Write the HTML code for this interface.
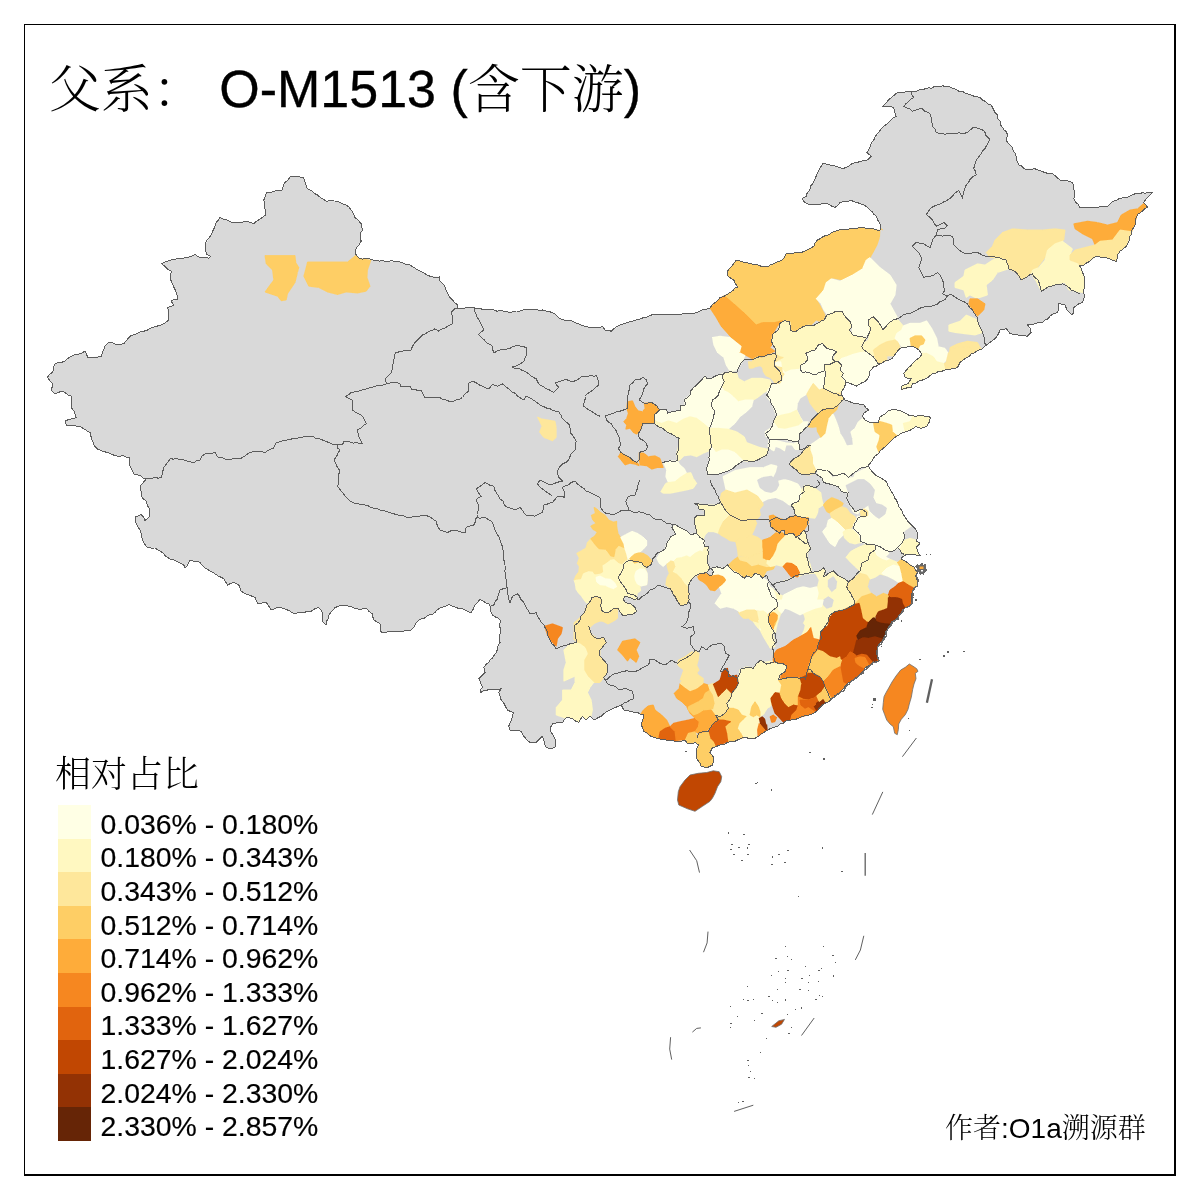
<!DOCTYPE html>
<html lang="zh">
<head>
<meta charset="utf-8">
<title>父系： O-M1513 (含下游)</title>
<style>
html,body{margin:0;padding:0;background:#fff;}
body{width:1200px;height:1200px;position:relative;overflow:hidden;font-family:"Liberation Sans","Noto Serif CJK SC",sans-serif;color:#000;}
#frame{position:absolute;left:24px;top:24px;width:1152px;height:1152px;border:solid #000;border-width:1px 2px 2px 1px;box-sizing:border-box;}
#title{-webkit-text-stroke:0.35px #000;position:absolute;left:48.8px;top:54.7px;font-size:52px;line-height:60px;white-space:pre;}
#title .cjk{position:relative;top:1.7px;-webkit-text-stroke:0;}
.cjk{font-family:"Noto Serif CJK SC",serif;font-weight:300;}
#legtitle{position:absolute;left:55px;top:750px;font-size:36px;line-height:44px;font-family:"Noto Serif CJK SC",serif;font-weight:300;}
#legend{position:absolute;left:58px;top:805px;}
#legend .row{height:33.6px;display:flex;align-items:center;}
#legend .sw{width:33px;height:33.6px;flex:none;}
#legend .lb{-webkit-text-stroke:0.18px #000;margin-left:9.5px;font-size:28.4px;line-height:33.6px;white-space:pre;position:relative;top:2.8px;}
#author{position:absolute;left:945px;top:1108px;font-size:28px;line-height:36px;white-space:pre;}
svg#map{position:absolute;left:0;top:0;}
</style>
</head>
<body>
<svg id="map" width="1200" height="1200" viewBox="0 0 1200 1200">
<!--MAP-->
<polygon points="300,177 303.8,178 307.5,188.8 317.5,195 326.2,201.2 337.5,201.2 346.2,205 351.2,210 355,217.5 361.2,223.8 362.5,230 360,236.2 361.2,241.2 356.2,247.5 355.5,253.8 358.8,258 372.5,260 385,261.2 400,262 410,265 420,271.2 430,276.2 439.5,277 440,281.2 443.8,285 450,297.5 457.5,305 458,308 472.5,307.5 490,310 512.5,312 530,309.2 542.5,310 555,313.8 560,318.8 572.5,321.2 587.5,327 600,327.5 602.5,326.2 605,330 611.2,331.2 620,325 642.5,318 656.2,314.5 680,314.5 697.5,312.5 702.5,309.5 710,308 720,297.5 730,292.5 737.5,287 733.8,280 728,276.2 727.5,271.2 736.2,260 750,263.8 767.5,267 782.5,259.5 786.2,253.8 802.5,252 813.8,246.2 817.5,240 835,231.2 845,229.5 860,227.5 870,228.8 880,230 880,223.8 876.2,216.2 867.5,207.5 857.5,202.5 851.2,200.5 840,202.5 835,207.5 827.5,203.8 812.5,205 807.5,203.8 802,198.8 806.2,196.2 822.5,163.8 830,165 842.5,168.8 855,162.5 867.5,160 871.2,156.2 867,152.5 873.8,140 881.2,128.8 890,121.2 896.2,116.2 893.8,107.5 882.5,106.2 887.5,101.2 897.5,92.5 910,92 925,88.8 940,86.2 950,87 958.8,91.2 970,94.5 980,97.5 985,101.2 991.2,105 995,112.5 1000,121.2 1002.5,127.5 1007.5,135 1006.2,140 1012.5,147.5 1016.2,156.2 1018.8,165 1023.8,168.8 1035,168.8 1045,172.5 1052.5,173.8 1060,180 1072.5,182.5 1075,192.5 1073.8,198.8 1080,207.5 1078.8,207 1092.5,207.5 1107.5,206.2 1112.5,201.2 1126.2,197.5 1135,193.8 1152.5,192.5 1146.2,198.8 1143.8,202.5 1147.5,207 1142.5,211.2 1137.5,214.5 1135,225 1130,236.2 1126.2,246.2 1120,251.2 1117.5,255 1116.2,261.2 1105,257.5 1096.2,256.2 1090,261.2 1083.8,265 1079.5,265.5 1082.5,272.5 1084.5,280 1083.8,293.8 1085,296.2 1082.5,302.5 1073.8,307.5 1072.5,315 1067,310 1065,305 1058.8,303.8 1057.5,312.5 1050,316.2 1042.5,322.5 1027.5,325 1031.2,332.5 1027.5,336.2 1010,333.8 1006.2,328.8 1000,330 996.2,337.5 985,346.2 982.5,348.8 971.2,353.8 960,362.5 957.5,367.5 945,370 932.5,373.8 922.5,380 912.5,383.8 911.2,387.5 901.2,390 901.9,386.2 908.3,383.4 911.1,378.8 904.7,377 903.8,373.3 908.3,367.8 913.8,362.3 919.3,357.8 922.1,354.1 918.4,349.5 913.8,346.8 908.3,346.8 901.9,347.3 897.3,351.3 894.6,355 891.8,358.7 879,364.2 873.5,366.9 869.8,371.5 868.9,377 866.2,380.7 860.7,383.4 856.1,386.2 852.4,384.3 846,382.5 844.2,388 841.4,391.7 842.3,396.2 845.1,399.9 856.1,403.6 863.4,404.5 866.2,408.2 868.9,410 864.3,412.8 862.5,416.4 865.2,420.1 871.7,422.8 878.1,422.5 879.9,417.3 885.4,413.7 888.2,410.9 894.6,409.1 897.3,410 904.7,412.8 909.2,415.5 915.7,416.4 920.2,415.1 930.3,417.3 929.4,421.9 926.7,426.5 921.2,428.3 915.7,426.5 910.2,430.2 904.7,432 899.2,434.8 894.6,437.5 890,442.1 885.4,446.7 879.9,451.2 875.3,455.8 871.7,461.3 868,465.9 871.7,471.4 879,476.9 886.3,481.5 890,488.8 894.6,498 896.4,500 899.2,507.3 904.7,516.5 910.2,523.8 915.7,529.3 917.5,535.8 916.6,541.2 920.2,543.1 916.6,546.8 917.5,551.3 920.2,555.9 915.7,555 908.3,554.1 902.8,556.8 901,558.7 908.3,563.2 913.8,566.9 917.5,572.4 915.7,576.1 917.5,580.7 917.9,586.2 913.8,588 912,593.5 911.1,599.9 912,603.6 908.3,606.3 904.7,608.2 901.9,611.8 899.2,614.6 897.3,618.2 891.8,621.9 889.1,626.5 886.3,631.1 884.5,636.6 881.8,641.2 878.1,644.8 876.2,652.2 878.1,657.7 879,661.3 873.5,662.2 869.8,665 865.2,667.8 862.5,672.3 857,676.9 852.4,680.6 847.8,683.3 843.2,688.8 838.7,693.4 833.2,698 828.6,701.7 823.1,704.4 819.4,708.1 814.8,712.7 807.5,715.4 798.3,718.2 791,720 785,721.2 777.5,726.2 770,728.8 763.8,732.5 758.8,736.2 752.5,738.8 746.2,737.5 737.5,740 727.5,742.5 720,745 712.5,747.5 710,752.5 713.8,757.5 712.5,765 707.5,767.5 701.2,766.2 697.5,760 696.2,752.5 698.8,745 695,742.5 687.5,743.8 685,740 675,741.2 666.2,740 657.5,738.8 648.8,735 643.8,731.2 641.2,725 643.8,716.2 643.8,715 635,712.5 623.8,710 621.2,705 615,707.5 607.5,711.2 601.2,716.2 595,720 590,716.2 586.2,720 582.5,716.2 578.8,722.5 572.5,718.8 566.2,717.5 562.5,722.5 552.5,723.8 550,730 555,738.8 555,747.5 550,748.8 546.2,747.5 543.8,740 542.5,736.2 536.2,742.5 530,742.5 523.8,736.2 521.2,731.2 510,730 508.8,726.2 513.8,712.5 507.5,710 501.2,700 498.8,692.5 501.2,688.8 487.5,690 480,693 482.5,687.5 478.8,678.8 485,672.5 483.8,667.5 488.8,662.5 496.2,652.5 500,642.5 500,620 492.5,615 488.8,603.8 480,599.5 475,605 471.2,612.5 465,610 448.8,604.5 441.2,607.5 435,612.5 417.5,621.2 411.2,630 400,632 400,632 395,631.2 381.2,632.5 380,623.8 373.8,620 372.5,613.8 366.2,608 360,610 350,606.2 341.2,605 335,607.5 328.8,615 326.2,625 322,621.2 322.5,612.5 318.8,607.5 311.2,611.2 302.5,612.5 292.5,613 286.2,609.5 280,607.5 271.2,610 266.2,602.5 257.5,603 255,597.5 247.5,594.5 241.2,591.2 238.8,585 233.8,582.5 227.5,585 223.8,578.8 215,573.8 203.8,567 200,562.5 190,560 185,568 183.8,565 176.2,561.2 167.5,557.5 162.5,552.5 155,548 147.5,547.5 142.5,540 140,530 136.2,523.8 135,517 141.2,514.5 145,520.5 150,516.2 150,510 146.2,501.2 141.2,496.2 140,486.2 146.2,478.8 133.8,473.8 130,466.2 129.5,457 115,455.5 102.5,451.2 97.5,448.8 97.5,450 93.8,445 90,432.5 80,426.2 66.2,425 65,421.2 76.2,417.5 71.2,405 71.2,396.2 62.5,391.2 55,393.8 51.2,390 52.5,383.8 47.5,377.5 53.8,370 55,363.8 65,361.2 71.2,356.2 85,351.2 87.5,357.5 101.2,356.2 105,346.2 108.8,342.5 116.2,344.5 123.8,343.8 130,336.2 143.8,331.2 152.5,327.5 163.8,323.8 168.8,320 167.5,307.5 173.8,305 171.2,301.2 177.5,299.5 176.2,292.5 170.8,280 171.2,271.2 166.2,267.5 161.8,263.8 171.2,260 182.5,258.8 195,254.5 198.8,257 208.8,258.2 210.5,256.2 206.2,253.8 205,245 211.2,235 216.2,222.5 220,217 232.5,222.5 247.5,221.2 253.8,223.8 265.5,215 263.8,200 266.2,193 282.5,190 285,182.5 290,177" fill="#D9D9D9" stroke="none"/>
<polygon points="677.5,800 678.3,791.7 680,786.7 685,780 690,775 698.3,773.3 706.7,772.5 713.3,770.8 719.2,771.7 721.7,776.7 720.8,781.7 717.5,786.7 715,793.3 712.5,798 710,801.3 702.5,806.3 695,811.3 687.5,808.8 678.8,805" fill="#C14702" stroke="#6e6e6e" stroke-width="0.8"/>
<polygon points="909.3,664 912.7,666 916.7,668.7 918,671.3 915.3,673.3 916,678.7 914,684 912.7,689.3 911.3,697.3 909.3,704 908,709.3 905.3,714.7 901.3,719.3 898.7,724 898.4,729.3 897.3,734.7 894.7,733.3 893.3,726.7 890,724 886.7,720 884.7,714.7 882.7,709.3 883.3,702.7 884,696.7 886,692.7 888.7,688 892,682 896,676 900.7,670 905.3,667.3" fill="#F68720" stroke="#6e6e6e" stroke-width="0.8"/>
<polygon points="771.7,1026.5 778.8,1020.8 784.5,1019.4 781.6,1024.2 776,1027.3" fill="#C14702" stroke="#6e6e6e" stroke-width="0.8"/>
<clipPath id="cn"><polygon points="300,177 303.8,178 307.5,188.8 317.5,195 326.2,201.2 337.5,201.2 346.2,205 351.2,210 355,217.5 361.2,223.8 362.5,230 360,236.2 361.2,241.2 356.2,247.5 355.5,253.8 358.8,258 372.5,260 385,261.2 400,262 410,265 420,271.2 430,276.2 439.5,277 440,281.2 443.8,285 450,297.5 457.5,305 458,308 472.5,307.5 490,310 512.5,312 530,309.2 542.5,310 555,313.8 560,318.8 572.5,321.2 587.5,327 600,327.5 602.5,326.2 605,330 611.2,331.2 620,325 642.5,318 656.2,314.5 680,314.5 697.5,312.5 702.5,309.5 710,308 720,297.5 730,292.5 737.5,287 733.8,280 728,276.2 727.5,271.2 736.2,260 750,263.8 767.5,267 782.5,259.5 786.2,253.8 802.5,252 813.8,246.2 817.5,240 835,231.2 845,229.5 860,227.5 870,228.8 880,230 880,223.8 876.2,216.2 867.5,207.5 857.5,202.5 851.2,200.5 840,202.5 835,207.5 827.5,203.8 812.5,205 807.5,203.8 802,198.8 806.2,196.2 822.5,163.8 830,165 842.5,168.8 855,162.5 867.5,160 871.2,156.2 867,152.5 873.8,140 881.2,128.8 890,121.2 896.2,116.2 893.8,107.5 882.5,106.2 887.5,101.2 897.5,92.5 910,92 925,88.8 940,86.2 950,87 958.8,91.2 970,94.5 980,97.5 985,101.2 991.2,105 995,112.5 1000,121.2 1002.5,127.5 1007.5,135 1006.2,140 1012.5,147.5 1016.2,156.2 1018.8,165 1023.8,168.8 1035,168.8 1045,172.5 1052.5,173.8 1060,180 1072.5,182.5 1075,192.5 1073.8,198.8 1080,207.5 1078.8,207 1092.5,207.5 1107.5,206.2 1112.5,201.2 1126.2,197.5 1135,193.8 1152.5,192.5 1146.2,198.8 1143.8,202.5 1147.5,207 1142.5,211.2 1137.5,214.5 1135,225 1130,236.2 1126.2,246.2 1120,251.2 1117.5,255 1116.2,261.2 1105,257.5 1096.2,256.2 1090,261.2 1083.8,265 1079.5,265.5 1082.5,272.5 1084.5,280 1083.8,293.8 1085,296.2 1082.5,302.5 1073.8,307.5 1072.5,315 1067,310 1065,305 1058.8,303.8 1057.5,312.5 1050,316.2 1042.5,322.5 1027.5,325 1031.2,332.5 1027.5,336.2 1010,333.8 1006.2,328.8 1000,330 996.2,337.5 985,346.2 982.5,348.8 971.2,353.8 960,362.5 957.5,367.5 945,370 932.5,373.8 922.5,380 912.5,383.8 911.2,387.5 901.2,390 901.9,386.2 908.3,383.4 911.1,378.8 904.7,377 903.8,373.3 908.3,367.8 913.8,362.3 919.3,357.8 922.1,354.1 918.4,349.5 913.8,346.8 908.3,346.8 901.9,347.3 897.3,351.3 894.6,355 891.8,358.7 879,364.2 873.5,366.9 869.8,371.5 868.9,377 866.2,380.7 860.7,383.4 856.1,386.2 852.4,384.3 846,382.5 844.2,388 841.4,391.7 842.3,396.2 845.1,399.9 856.1,403.6 863.4,404.5 866.2,408.2 868.9,410 864.3,412.8 862.5,416.4 865.2,420.1 871.7,422.8 878.1,422.5 879.9,417.3 885.4,413.7 888.2,410.9 894.6,409.1 897.3,410 904.7,412.8 909.2,415.5 915.7,416.4 920.2,415.1 930.3,417.3 929.4,421.9 926.7,426.5 921.2,428.3 915.7,426.5 910.2,430.2 904.7,432 899.2,434.8 894.6,437.5 890,442.1 885.4,446.7 879.9,451.2 875.3,455.8 871.7,461.3 868,465.9 871.7,471.4 879,476.9 886.3,481.5 890,488.8 894.6,498 896.4,500 899.2,507.3 904.7,516.5 910.2,523.8 915.7,529.3 917.5,535.8 916.6,541.2 920.2,543.1 916.6,546.8 917.5,551.3 920.2,555.9 915.7,555 908.3,554.1 902.8,556.8 901,558.7 908.3,563.2 913.8,566.9 917.5,572.4 915.7,576.1 917.5,580.7 917.9,586.2 913.8,588 912,593.5 911.1,599.9 912,603.6 908.3,606.3 904.7,608.2 901.9,611.8 899.2,614.6 897.3,618.2 891.8,621.9 889.1,626.5 886.3,631.1 884.5,636.6 881.8,641.2 878.1,644.8 876.2,652.2 878.1,657.7 879,661.3 873.5,662.2 869.8,665 865.2,667.8 862.5,672.3 857,676.9 852.4,680.6 847.8,683.3 843.2,688.8 838.7,693.4 833.2,698 828.6,701.7 823.1,704.4 819.4,708.1 814.8,712.7 807.5,715.4 798.3,718.2 791,720 785,721.2 777.5,726.2 770,728.8 763.8,732.5 758.8,736.2 752.5,738.8 746.2,737.5 737.5,740 727.5,742.5 720,745 712.5,747.5 710,752.5 713.8,757.5 712.5,765 707.5,767.5 701.2,766.2 697.5,760 696.2,752.5 698.8,745 695,742.5 687.5,743.8 685,740 675,741.2 666.2,740 657.5,738.8 648.8,735 643.8,731.2 641.2,725 643.8,716.2 643.8,715 635,712.5 623.8,710 621.2,705 615,707.5 607.5,711.2 601.2,716.2 595,720 590,716.2 586.2,720 582.5,716.2 578.8,722.5 572.5,718.8 566.2,717.5 562.5,722.5 552.5,723.8 550,730 555,738.8 555,747.5 550,748.8 546.2,747.5 543.8,740 542.5,736.2 536.2,742.5 530,742.5 523.8,736.2 521.2,731.2 510,730 508.8,726.2 513.8,712.5 507.5,710 501.2,700 498.8,692.5 501.2,688.8 487.5,690 480,693 482.5,687.5 478.8,678.8 485,672.5 483.8,667.5 488.8,662.5 496.2,652.5 500,642.5 500,620 492.5,615 488.8,603.8 480,599.5 475,605 471.2,612.5 465,610 448.8,604.5 441.2,607.5 435,612.5 417.5,621.2 411.2,630 400,632 400,632 395,631.2 381.2,632.5 380,623.8 373.8,620 372.5,613.8 366.2,608 360,610 350,606.2 341.2,605 335,607.5 328.8,615 326.2,625 322,621.2 322.5,612.5 318.8,607.5 311.2,611.2 302.5,612.5 292.5,613 286.2,609.5 280,607.5 271.2,610 266.2,602.5 257.5,603 255,597.5 247.5,594.5 241.2,591.2 238.8,585 233.8,582.5 227.5,585 223.8,578.8 215,573.8 203.8,567 200,562.5 190,560 185,568 183.8,565 176.2,561.2 167.5,557.5 162.5,552.5 155,548 147.5,547.5 142.5,540 140,530 136.2,523.8 135,517 141.2,514.5 145,520.5 150,516.2 150,510 146.2,501.2 141.2,496.2 140,486.2 146.2,478.8 133.8,473.8 130,466.2 129.5,457 115,455.5 102.5,451.2 97.5,448.8 97.5,450 93.8,445 90,432.5 80,426.2 66.2,425 65,421.2 76.2,417.5 71.2,405 71.2,396.2 62.5,391.2 55,393.8 51.2,390 52.5,383.8 47.5,377.5 53.8,370 55,363.8 65,361.2 71.2,356.2 85,351.2 87.5,357.5 101.2,356.2 105,346.2 108.8,342.5 116.2,344.5 123.8,343.8 130,336.2 143.8,331.2 152.5,327.5 163.8,323.8 168.8,320 167.5,307.5 173.8,305 171.2,301.2 177.5,299.5 176.2,292.5 170.8,280 171.2,271.2 166.2,267.5 161.8,263.8 171.2,260 182.5,258.8 195,254.5 198.8,257 208.8,258.2 210.5,256.2 206.2,253.8 205,245 211.2,235 216.2,222.5 220,217 232.5,222.5 247.5,221.2 253.8,223.8 265.5,215 263.8,200 266.2,193 282.5,190 285,182.5 290,177"/></clipPath>
<g stroke-width="0.9" stroke-linejoin="round" shape-rendering="crispEdges" clip-path="url(#cn)">
<polygon points="265,255.5 295,255.5 295.8,262.5 298.8,267.5 297.5,272.5 295,282.5 287.5,293.8 286.2,300 281.2,300.8 277.5,296.2 265,292 270,285 273.8,280 272.5,270 266.2,263.8" fill="#FECE65" stroke="#FECE65"/>
<polygon points="307.5,262 347.5,262 358,253.6 358.3,253.3 360.5,256.1 361.8,255.9 365.2,256.4 368.6,256.9 371.9,257.4 367.5,270 367,277.5 370,286.2 366.2,291.2 357.5,293 346.2,292 337.5,294.5 327.5,292 318.8,287.5 308.8,286.2 303.8,276.2 306.2,267.5" fill="#FECE65" stroke="#FECE65"/>
<polygon points="537.5,417 541.2,418.8 555,421.2 556.2,427.5 556.2,437.5 552.5,440.8 547.5,438.8 543.8,437.5 539.5,432 542,426.2 539.5,421.2" fill="#FEE79B" stroke="#FEE79B"/>
<polygon points="736.2,260 750,263.8 767.5,267 782.5,259.5 786.2,253.8 802.5,252 813.8,246.2 817.5,240 835,231.2 845,229.5 860,227.5 863.7,225.5 867,225.9 870.4,226.3 873.9,226.7 877.3,227.2 882.5,230 880,227.5 879.5,237.5 877,245 873,252.5 868.8,260 862.5,270 850,276.2 842.5,280 832.5,278 825,288.8 816.2,298.8 821.2,307.5 825,315 822.5,322.5 816.2,320 811.2,325 805,326.2 800,330 791.2,331.2 790,321.2 782.5,320.5 775,322.5 762.5,322.5 756.2,325 745,313.8 733.8,303.8 721.9,293.7 725.4,292 730,292.5 737.5,287 733.8,280 728,276.2 727.5,271.2" fill="#FECE65" stroke="#FECE65"/>
<polygon points="710,308 720,297.5 721.9,293.7 733.8,303.8 745,313.8 756.2,325 762.5,322.5 775,322.5 782.5,320.5 777.5,326.2 772,335 773.8,342.5 770,347.5 775,351.2 765,356.2 753.8,359.5 745,355 739.5,352.5 741.2,346.2 730,336.2 721.2,326.2 716.2,317.5 708.6,305.9" fill="#FEAC3A" stroke="#FEAC3A"/>
<polygon points="712.5,337.5 720,336.2 730,337.5 741.2,346.2 739.5,352.5 745,355.5 742.5,361.2 737.5,370 730,371.2 726.2,365 723.8,357.5 717.5,352.5 713.8,345" fill="#FFFFE5" stroke="#FFFFE5"/>
<polygon points="870,257.5 880,267.5 890,275 896.2,285 895,295 890,303.8 897.5,317.5 882.5,328.8 877.5,322.5 871.2,317.5 868.8,322.5 870,335 862.5,337.5 851.2,335 852.5,327.5 847.5,320 841.2,312.5 833.8,312 827.5,315 823.8,310 821.2,303.8 816.2,298.8 823.8,290 826.2,282.5 831.2,278.8 840,281.2 852.5,275 862.5,268.8 866.2,260" fill="#FFFFE5" stroke="#FFFFE5"/>
<polygon points="986.2,252.5 992.5,246.2 995,240 1002.5,232.5 1012.5,228.8 1027.5,230 1042.5,230 1055,228.8 1065,230 1063.8,240 1055,245 1048.8,250 1045,257.5 1037.5,267.5 1031.2,272.5 1026.2,277.5 1021.2,280 1016.2,272.5 1008.8,268.8 1006.2,260 997.5,257.5 990,257.5" fill="#FEE79B" stroke="#FEE79B"/>
<polygon points="955,282.5 963.8,276.2 965,270 977.5,263.8 985,265 992.5,260 997.5,257.5 1006.2,260 1008.8,268.8 997.5,272.5 992.5,280 986.2,285 987.5,295 980,297.5 975,297.5 970,295 966.2,297.5 963.8,290 955,287.5" fill="#FFF8C1" stroke="#FFF8C1"/>
<polygon points="970,298.8 977.5,298.8 985,303.8 983.8,310 977.5,316.2 972.5,310 968.8,303.8" fill="#FEAC3A" stroke="#FEAC3A"/>
<polygon points="948.8,325 960,321.2 966.2,315 972.5,317.5 977.5,320 978.8,325 982.5,332.5 975,335 965,333.8 955,332.5 948.8,331.2" fill="#FFF8C1" stroke="#FFF8C1"/>
<polygon points="1032.5,270 1038.8,267.5 1045,260 1047.5,250 1055,243.8 1062.5,241.2 1072.5,248.8 1070,255 1070,260 1078.5,263.2 1082.3,265.7 1083.6,268.6 1082.5,272.5 1084.5,280 1083.8,293.8 1086.3,293.2 1075,291.2 1068.8,290 1065,282.5 1057.5,283.8 1047.5,287.5 1041.2,291.2 1036.2,281.2 1031.2,273.8" fill="#FFF8C1" stroke="#FFF8C1"/>
<polygon points="1073.8,223.8 1087.5,221.2 1097.5,222.5 1107.5,225 1117.5,222.5 1121.2,215 1130,210 1137.5,208.8 1146,201.4 1145.5,211.9 1142.5,211.2 1137.5,214.5 1135,225 1135.9,229 1134.6,232 1120,230 1112.5,240 1100,241.2 1095,245 1092.5,238.8 1082.5,233.8 1075,228.8" fill="#FEAC3A" stroke="#FEAC3A"/>
<polygon points="1070,260 1070,255 1075,250 1090,246.2 1095,245 1100,241.2 1112.5,240 1120,230 1134.6,232 1135.9,229 1135,225 1130,236.2 1126.2,246.2 1120,251.2 1117.5,255 1116.2,261.2 1105,257.5 1096.2,256.2 1090,261.2 1083.8,265 1079.5,265.5 1078.5,263.2" fill="#FEE79B" stroke="#FEE79B"/>
<polygon points="950,347.5 957.5,343.8 967.5,341.2 977.5,342.5 982.6,351.5 982.5,348.8 971.2,353.8 960,362.5 957.5,367.5 945,370 942.5,365 948.8,360" fill="#FEE79B" stroke="#FEE79B"/>
<polygon points="828.6,616.4 836.8,611.8 844.2,610 853.3,606.3 859.8,604.5 861.6,611.8 862.5,619.2 866.2,621.9 871.7,621 866.2,628.3 858.8,631.1 856.1,635.7 856.1,639.3 855.2,644.8 853.3,650.3 854.2,655.8 849.7,652.2 845.1,654 840.5,659.5 835,655.8 831.3,657.7 825.8,652.2 821.2,649.4 817.6,644.8 820.3,639.3 819.4,634.8 824,630.2 828.6,626.5 829.5,621" fill="#C14702" stroke="#C14702"/>
<polygon points="859.8,604.5 857.9,599.9 862.5,595.3 868,593.5 873.5,597.2 879,595.3 882.7,591.7 888.2,593.5 889.1,599.9 888.2,606.3 882.7,610 878.1,610.9 875.3,614.6 874.4,617.3 871.7,621 866.2,621.9 862.5,619.2 861.6,611.8" fill="#FECE65" stroke="#FECE65"/>
<polygon points="888.2,593.5 895.5,584.3 901,582.5 908.3,586.2 915.8,589.9 912,593.5 911.1,599.9 912,603.6 908.3,606.3 904.7,608.2 901.9,604.5 901.9,599.9 897.3,597.2 891.8,598.1" fill="#E1640E" stroke="#E1640E"/>
<polygon points="888.2,593.5 891.8,598.1 897.3,597.2 901.9,599.9 901.9,604.5 904.7,608.2 901.9,611.8 899.2,614.6 897.3,618.2 891.8,621.9 889.1,626.5 884.5,622.8 879.9,624.7 877.2,621 875.3,614.6 878.1,610.9 882.7,610 888.2,606.3 889.1,599.9" fill="#933204" stroke="#933204"/>
<polygon points="856.1,635.7 858.8,631.1 866.2,628.3 871.7,621 874.4,617.3 877.2,621 879.9,624.7 884.5,622.8 889.1,626.5 886.3,631.1 884.5,636.6 879.9,634.8 875.3,637.5 869.8,639.3 863.4,638.4 858.8,640.2" fill="#662506" stroke="#662506"/>
<polygon points="856.1,639.3 858.8,640.2 863.4,638.4 869.8,639.3 875.3,637.5 879.9,634.8 884.5,636.6 881.8,641.2 878.1,644.8 876.2,652.2 878.1,657.7 874.5,664.6 869.8,655.8 864.3,654.9 858.8,656.8 854.2,655.8 853.3,650.3 855.2,644.8" fill="#933204" stroke="#933204"/>
<polygon points="840.5,659.5 845.1,654 849.7,652.2 854.2,655.8 858.8,656.8 864.3,654.9 869.8,655.8 874.5,664.6 876.9,664.2 879,661.3 873.5,662.2 869.8,665 865.2,667.8 862.5,672.3 857,676.9 852.4,680.6 849.7,676 846,674.2 842.3,668.7 838.7,665" fill="#E1640E" stroke="#E1640E"/>
<polygon points="854.2,655.8 864.3,654.9 874,665 871.6,666.7 868.8,668.5 865.2,667.8 860.7,665 855.2,663.2" fill="#F68720" stroke="#F68720"/>
<polygon points="828.6,676 833.2,670.5 838.7,665 842.3,668.7 846,674.2 849.7,676 852.4,680.6 847.8,683.3 843.2,688.8 838.7,693.4 833.2,698 829.5,694.3 826.8,687 825.8,681.5" fill="#F68720" stroke="#F68720"/>
<polygon points="842.3,673.2 846,674.2 849.7,676 852.4,680.6 847.8,683.3 849.6,685.1" fill="#FEAC3A" stroke="#FEAC3A"/>
<polygon points="808.4,666.8 812.1,657.7 817.6,650.3 821.2,649.4 825.8,652.2 831.3,657.7 835,655.8 840.5,659.5 838.7,665 833.2,670.5 828.6,676 825.8,681.5 821.2,676 814.8,673.2 807.5,673.2" fill="#FECE65" stroke="#FECE65"/>
<polygon points="780,648.5 787.3,644.8 792.8,641.2 798.3,637.5 805.7,633.8 811.2,628.3 813,637.5 819.4,640.2 817.6,644.8 817.6,650.3 812.1,657.7 808.4,666.8 807.5,673.2 802,679.7 794.7,676 787.3,678.8 780,681.5" fill="#F68720" stroke="#F68720"/>
<polygon points="800.2,690.7 802,679.7 807.5,673.2 814.8,673.2 821.2,676 825.8,681.5 826.8,687 823.1,692.5 818.5,694.3 815.8,699.8 807.5,698 802,697.1" fill="#C14702" stroke="#C14702"/>
<polygon points="818.5,694.3 823.1,692.5 826.2,687.9 828,696.2 831.6,702.5 827.4,705.1 822.2,699.8 824.3,706.6" fill="#FECE65" stroke="#FECE65"/>
<polygon points="814.8,703.5 815.8,699.8 822.2,699.8 827.4,705.1 823.1,704.4 819.4,708.1 818.9,712.1" fill="#933204" stroke="#933204"/>
<polygon points="780,687 787.3,678.8 794.7,676 802,679.7 800.2,690.7 798.3,698.9 794.7,705.3 789.2,708.1 783.7,701.7 780,698" fill="#FECE65" stroke="#FECE65"/>
<polygon points="789.2,708.1 794.7,705.3 798.3,698.9 802,697.1 807.5,698 815.8,699.8 814.8,703.5 818.9,712.1 814.8,712.7 807.5,715.4 798.3,718.2 791,720 790.2,722.7 787.3,714.5" fill="#F68720" stroke="#F68720"/>
<polygon points="897.3,562.3 903.5,557.3 905.8,558.7 908.3,563.2 913.8,566.9 917.5,572.4 915.7,576.1 917.5,580.7 917.9,586.2 913.8,588 908.3,586.2 901,582.5 901,573.3 899.2,567.8" fill="#FECE65" stroke="#FECE65"/>
<polygon points="544.5,626.2 552.5,623.8 562.5,627.5 561.2,633.8 557.5,638.8 556.2,646.2 551.2,641.2 547.5,635" fill="#F68720" stroke="#F68720"/>
<polygon points="575,635 575,625 580,620 585,615 586.2,608.8 591.2,602.5 592.5,598 600,598 601.2,607.5 607.5,612.5 612.5,610 617.5,611.2 617.5,617.5 612.5,621.2 600,621.2 592.5,623.8 588.8,626.2 591.2,633.8 597.5,638.8 603.8,637.5 606.2,642.5 600,650 600,656.2 607.5,665 607.5,672.5 603.8,677.5 600,682.5 593.8,682.5 587.5,676.2 583.8,670 583.8,660 587.5,653.8 585,647.5 580,643.8 576.2,642.5" fill="#FEE79B" stroke="#FEE79B"/>
<polygon points="563.8,650 570,643.8 576.2,642.5 580,643.8 585,647.5 587.5,653.8 583.8,660 583.8,670 587.5,676.2 593.8,682.5 590,687.5 587.5,692.5 591.2,700 592.5,710 590.3,719.6 590,716.2 586.2,720 582.5,716.2 578.8,722.5 572.5,718.8 566.2,717.5 568.1,719.1 556.2,715 556.2,707.5 562.5,700 562.5,690 571.2,690 575,682.5 575,676.2 563.8,681.2 563.8,670 566.2,662.5" fill="#FFF8C1" stroke="#FFF8C1"/>
<polygon points="617.5,650 622.5,641.2 635,638.8 640,642.5 636.2,650 638.8,656.2 636.2,662.5 630,657.5 627.5,661.2 622.5,655" fill="#FEAC3A" stroke="#FEAC3A"/>
<polygon points="654.2,415 660.8,409.2 666.7,410 667.5,413.3 673.3,411.7 680,410.8 680.8,405 685,405.8 684.2,399.2 690,395 690.8,390.8 696.7,385 700,381.7 705,375.8 706.7,378.3 711.7,378.3 718.3,375 723.3,373.3 722.5,378.3 724.2,381.7 721.7,386.7 718.3,395 712.5,400 711.7,406.7 715,411.7 713.3,416.7 711.7,423.3 709.2,428.3 703.3,423.3 696.7,418.3 690,416.7 683.3,419.2 676.7,423.3 668.3,420.8 661.7,423.3 656.7,421.7 654.2,419.2" fill="#FFFFE5" stroke="#FFFFE5"/>
<polygon points="661.7,423.3 668.3,420.8 676.7,423.3 683.3,419.2 690,416.7 696.7,418.3 703.3,423.3 709.2,428.3 710,435 711.7,446.7 709.2,450.8 703.3,453.3 696.7,456.7 690.8,455 684.2,455.8 680,460 677.5,460.8 676.7,453.3 678.3,446.7 679.2,438.3 673.3,435 666.7,431.7 662.5,428.3 658.3,426.7 654.2,423.3 654.2,419.2 656.7,421.7" fill="#FFF8C1" stroke="#FFF8C1"/>
<polygon points="723.3,373.3 730,371.7 736.7,372.5 738.3,378.3 744.2,381.7 751.7,378.3 761.7,378.3 770,380 771.7,383.3 768.3,390 763.3,393.3 756.7,398.3 753.3,400 745,400 738.3,401.7 733.3,396.7 728.3,392.5 724.2,390.8 721.7,386.7 724.2,381.7 722.5,378.3" fill="#FFF8C1" stroke="#FFF8C1"/>
<polygon points="721.7,386.7 724.2,390.8 728.3,392.5 733.3,396.7 738.3,401.7 745,400 753.3,400 751.7,406.7 746.7,411.7 740,416.7 735,423.3 728.3,429.2 718.3,428.3 711.7,428.3 711.7,423.3 713.3,416.7 715,411.7 711.7,406.7 712.5,400 718.3,395" fill="#FFFFE5" stroke="#FFFFE5"/>
<polygon points="709.2,428.3 718.3,428.3 728.3,429.2 736.7,431.7 744.2,436.7 746.7,442.5 753.3,445 760,447.5 768.3,449.2 766.7,455 759.2,459.2 751.7,461.7 743.3,460.8 739.2,456.7 735,452.5 728.3,450 721.7,450 715.8,452.5 711.7,446.7 710,435" fill="#FFF8C1" stroke="#FFF8C1"/>
<polygon points="711.7,446.7 715.8,452.5 721.7,450 728.3,450 735,452.5 739.2,456.7 743.3,460.8 736.7,465 730,470 723.3,472.5 716.7,474.2 707.5,475 706.7,468.3 709.2,460 709.2,450.8" fill="#FFFFE5" stroke="#FFFFE5"/>
<polygon points="627.5,401.7 632.5,400.8 635,406.7 638.3,410.8 642.5,411.7 645,408.3 644.2,403.3 651.7,402.5 656.7,405.8 659.2,410 654.2,415 654.2,423.3 642.5,423.7 640.8,430 636.7,434.2 633.3,432.5 630,428.3 625.8,429.2 626.7,425 623.7,421.7 626.7,418.3 628.3,413.3 626.7,408.3" fill="#FEAC3A" stroke="#FEAC3A"/>
<polygon points="618.3,456.7 620.8,452.5 625,455 630,457.5 633.3,460.8 637.5,462.5 639.2,465.8 635,464.2 630,463.3 625,465 621.7,460.8" fill="#FEAC3A" stroke="#FEAC3A"/>
<polygon points="639.2,452.5 644.2,453.3 648.3,456.7 655,455.8 660,458.3 661.7,463.3 663.3,467.5 657.5,467.5 651.7,469.2 646.7,465.8 640,465 639.2,460" fill="#FEAC3A" stroke="#FEAC3A"/>
<polygon points="663.3,462.5 670,460.8 677.5,460.8 680,465 684.2,468.3 686.7,473.3 680,477.5 675,481.7 668.3,482.5 665.8,476.7 666.7,470" fill="#FFFFE5" stroke="#FFFFE5"/>
<polygon points="660.8,491.7 665.8,483.3 668.3,482.5 675,481.7 680,477.5 686.7,473.3 690.8,472.5 693.3,478.3 696.7,483.3 693.3,488.3 686.7,490 678.3,491.7 670,493.3 663.3,493.3" fill="#FFF8C1" stroke="#FFF8C1"/>
<polygon points="772.5,334.2 778.3,330 780,323.3 784.2,320.8 790,321.7 790.8,330.8 795.8,331.7 801.7,327.5 808.3,325 813.3,325.8 824.2,320 826.7,315 835,311.7 842.5,311.7 846.7,318.3 850.8,322.5 851.7,327.5 849.2,330 853.3,335.8 861.7,336.7 866.7,338.3 863.3,343.3 861.7,346.7 866.7,351.7 860,352.5 853.3,354.2 846.7,356.7 841.7,358.3 838.3,361.7 833.3,360 836.7,351.7 833.3,350 826.7,348.3 822.5,343.3 818.3,345 815,350 805.8,353.3 807.5,360 800.8,365 800,369.2 790.8,370 785,372.5 781.7,368.3 780.8,361.7 774.2,362.5 776.7,356.7 775,348.3 771.7,341.7" fill="#FFF8C1" stroke="#FFF8C1"/>
<polygon points="800.8,365 807.5,360 805.8,353.3 815,350 818.3,345 822.5,343.3 826.7,348.3 833.3,350 836.7,351.7 833.3,355 832.5,359.2 835,361.7 830,364.2 825,364.2 825,370.8 819.2,372.5 815,375 809.2,372.5 802.5,372.5 800,369.2" fill="#FFFFE5" stroke="#FFFFE5"/>
<polygon points="825,364.2 830,364.2 833.3,360 838.3,361.7 841.7,365 840,370 843.3,373.3 841.7,376.7 846.9,384.8 847.2,386.8 844,392.4 844.2,392.9 833.3,393.3 828.3,390.8 823.3,388.3 824.2,381.7 825.8,373.3 825,370.8" fill="#FFF8C1" stroke="#FFF8C1"/>
<polygon points="838.3,361.7 841.7,358.3 846.7,356.7 853.3,354.2 860,352.5 866.7,351.7 873.3,356.7 879.9,366.5 874.9,369 872.2,372.4 871.7,375.6 869.8,380 865.6,383.8 861,386.1 853,387.4 848.1,385.7 846.9,384.8 841.7,376.7 843.3,373.3 840,370 841.7,365" fill="#FFFFE5" stroke="#FFFFE5"/>
<polygon points="774.2,362.5 780.8,361.7 781.7,368.3 785,372.5 790.8,370 800,369.2 802.5,372.5 809.2,372.5 815,375 819.2,372.5 825,370.8 825.8,373.3 824.2,381.7 823.3,388.3 819.2,390 813.3,383.3 810,388.3 806.7,394.2 800,398.3 797.5,403.3 796.7,410 790,413.3 781.7,415 776.7,416.7 774.2,410 771.7,403.3 766.7,396.7 767.5,390 771.7,385 776.7,383.3 781.7,380 780.8,373.3 775,366.7" fill="#FFFFE5" stroke="#FFFFE5"/>
<polygon points="806.7,394.2 810,388.3 813.3,383.3 819.2,390 823.3,388.3 828.3,390.8 833.3,393.3 844.2,392.9 844.7,395.6 846.1,397.1 838.3,405 833.3,408.3 823.3,409.2 818.3,413.3 815,410 810,403.3 808.3,398.3" fill="#FEE79B" stroke="#FEE79B"/>
<polygon points="776.7,416.7 781.7,415 790,413.3 796.7,410 800,416.7 803.3,421.7 808.3,421.7 805,428.3 800,433.3 798.3,441.7 790,440.8 781.7,439.2 770,439.2 765.8,436.7 765,431.7 770,428.3 774.2,421.7" fill="#FFFFE5" stroke="#FFFFE5"/>
<polygon points="776.7,416.7 781.7,415 790,413.3 796.7,410 800,416.7 802.5,421.7 798.3,425 791.7,426.7 785,428.3 778.3,427.5 774.2,421.7" fill="#FFF8C1" stroke="#FFF8C1"/>
<polygon points="810,445 815,441.7 820.8,437.5 825,433.3 826.7,425 828.3,418.3 831.7,414.2 833.3,414.2 835.8,420 838.3,426.7 840,433.3 843.3,438.3 846.7,445.8 853.3,445 852.5,438.3 850.8,431.7 855,428.3 858.3,421.7 865.4,416.2 868,418.6 871.8,420.1 874.9,420.1 876.3,420.1 879.3,414.7 883.6,411.9 888,408.4 891,407.5 895.8,406.9 899,408 902.1,409.1 904.9,410.2 908.1,411.9 912.2,413.4 915.3,413.9 919.4,412.7 923.8,413.3 927.2,414.1 932.7,418 931.9,422.2 929.8,426.1 926.9,429.1 924.3,429.9 918.6,430.1 915.9,429.2 914.6,430.2 910.9,432.6 907.4,433.8 904.2,435.1 900.9,436.7 897.6,438.7 894.9,440.8 892.6,443 890.3,445.3 887.8,447.8 884.9,450.3 882.2,452.5 879.8,454.8 876.2,459.1 874.2,462.1 871.9,465.1 870.3,464.8 860,468.3 853.3,473.3 848.3,477.5 843.3,473.3 838.3,475 833.3,475.8 826.7,470 817.5,469.2 815.8,470 812.5,463.3 812.5,456.7 810,450" fill="#FFFFE5" stroke="#FFFFE5"/>
<polygon points="807.5,426.7 811.7,420 815,416.7 823.3,409.2 833.3,408.3 838.3,405 836.7,410 831.7,414.2 828.3,418.3 826.7,425 825,433.3 820.8,437.5 817.5,431.7 816.7,426.7 811.7,427.5" fill="#FECE65" stroke="#FECE65"/>
<polygon points="789.2,464.2 793.3,459.2 800,455 805,448.3 810,445 810,450 812.5,456.7 812.5,463.3 815.8,470 815,473.3 808.3,475 801.7,474.2 796.7,470" fill="#FEE79B" stroke="#FEE79B"/>
<polygon points="873,420.2 876.4,420.1 876.6,420.5 886.7,423.3 891.7,425 892.5,431.7 899.3,437.7 900.9,436.7 897.6,438.7 894.9,440.8 892.6,443 890.3,445.3 887.8,447.8 884.9,450.3 882.2,452.5 879.8,454.8 877.3,457.3 879.8,454.8 876.7,446.7 879.2,440 880,435 875,431.7" fill="#FECE65" stroke="#FECE65"/>
<polygon points="903.3,423.3 910,421.7 914.2,413.7 915.4,413.9 919.4,412.7 923.8,413.3 927.2,414.1 932.7,418 931.9,422.2 929.8,426.1 926.9,429.1 924.3,429.9 918.6,430.1 915.9,429.2 914.6,430.2 910.9,432.6 907.4,433.8 905.6,434.3" fill="#FFF8C1" stroke="#FFF8C1"/>
<polygon points="861.7,346.7 863.3,343.3 868.3,340 870,331.7 868.3,320 873.3,316.7 878.3,321.7 882.5,330 888.3,323.3 893.3,320 898.3,320 903.3,325.8 901.7,330 896.7,333.3 895,338.3 898.3,341.7 900.9,351.5 899.2,352.9 897.2,355.7 886.7,355.8 887,363.5 884.5,364.5 879.9,366.5 873.3,356.7 866.7,351.7" fill="#FFF8C1" stroke="#FFF8C1"/>
<polygon points="873.3,350 880,345 886.7,341.7 895,340 898.3,341.7 900.9,351.5 899.2,352.9 897.2,355.7 886.7,355.8 887,363.5 884.5,364.5 879.9,366.5 875,356.7" fill="#FEE79B" stroke="#FEE79B"/>
<polygon points="895,338.3 896.7,333.3 901.7,330 903.3,325.8 910,323.3 920,323.3 926.7,320.8 931.7,328.3 936.7,338.3 938.3,346.7 945,348.3 948.3,353.3 946.7,360 943.3,363.3 936.7,361.7 933.3,356.7 926.7,353.3 918.3,353.4 916.8,351.5 913.6,349.6 911.7,349.3 906.9,349.4 903.3,349.4 903.3,349.3 898.3,341.7" fill="#FFFFE5" stroke="#FFFFE5"/>
<polygon points="910,338.3 915,335.8 921.7,335.8 925,340 923.3,344.2 920,345 916.8,351.5 913.6,349.6 911.7,349.3" fill="#FECE65" stroke="#FECE65"/>
<polygon points="902.3,371.1 904.6,368.4 907.1,365.4 910.1,362.5 913.5,359.3 916.8,356.6 919,354.1 919.9,355.4 918.3,353.4 926.7,353.3 933.3,356.7 936.7,361.7 943.3,363.3 945.8,372.4 943.2,373.2 940.2,374.1 937.2,375 933.8,376 931,377.7 928,379.5 925.3,381.2 922.1,382.8 919.2,383.9 915.3,385.4 914.3,386.2 908,390.9 904,391.9 899.3,386.3 904.7,382.3 906.7,381.3 908.7,377.9 906,380" fill="#FFF8C1" stroke="#FFF8C1"/>
<polygon points="945.8,372.4 946.7,360 948.3,353.3 951.7,348.3 960,346.7 970,347.5 974.1,355.3 971.5,356.7 968.5,359 966.1,361 963.6,362.9 961.9,364.3 960.7,366.7 955.2,370.5 952.3,371.1 948.7,371.8" fill="#FEE79B" stroke="#FEE79B"/>
<polygon points="666.7,563.3 670.8,560 674.2,560.8 675.8,566.7 673.3,571.7 676.7,573.3 681.7,578.3 685,583.3 688.3,586.7 689.2,600 686.7,604.2 680,605 676.7,600 673.3,595 670,588.3 665.8,585 666.7,578.3 669.2,573.3 667.5,568.3" fill="#FEE79B" stroke="#FEE79B"/>
<polygon points="659.2,563.3 656.7,558.3 660.8,551.7 665,549.2 666.7,543.3 670.8,536.7 675.8,534.2 673.3,530 671.7,527.5 675.8,525 680,527.5 685,530 690,534.2 696.7,533.3 700,537.5 704.2,540 705,546.7 702.5,551.7 700,550.8 695,553.3 690,557.5 686.7,555.8 681.7,557.5 676.7,558.3 674.2,560.8 670.8,560 666.7,563.3 663.3,566.7" fill="#FFFFE5" stroke="#FFFFE5"/>
<polygon points="694.2,503.3 700,504.2 708.3,505 715,505 720.8,502.5 723.3,506.7 726.7,511.7 730,515 726.7,518.3 723.3,521.7 720,528.3 718.3,533.3 713.3,531.7 708.3,531.7 705,535 703.3,539.2 700,537.5 696.7,533.3 695,525 694.2,518.3 696.7,515.8 705,515 704.2,510 699.2,509.2 697.5,505" fill="#FFF8C1" stroke="#FFF8C1"/>
<polygon points="674.2,560.8 676.7,558.3 681.7,557.5 686.7,555.8 690,557.5 695,553.3 700,550.8 702.5,551.7 705,546.7 708.3,546.7 708.3,553.3 707.5,563.3 710,568.3 706.7,572.5 703.3,573.3 696.7,575 693.3,577.5 690,581.7 688.3,586.7 685,583.3 681.7,578.3 676.7,573.3 673.3,571.7 675.8,566.7" fill="#FFF8C1" stroke="#FFF8C1"/>
<polygon points="720.8,502.5 726.7,495 736.7,495.8 746.7,493.3 756.7,494.2 761.7,498.3 763.3,505 759.2,510 760,515 755,519.2 746.7,520 740,520 735,517.5 730,515 726.7,511.7 723.3,506.7" fill="#FEE79B" stroke="#FEE79B"/>
<polygon points="718.3,533.3 720,528.3 723.3,521.7 726.7,518.3 730,515 735,517.5 740,520 746.7,520 755,519.2 756.7,523.3 754.2,530 751.7,535 745,537.5 740,537.5 735.8,541.7 730,540.8 725,537.5 721.7,535.8" fill="#FEE79B" stroke="#FEE79B"/>
<polygon points="726.7,566.7 733.3,560 738.3,556.7 740,560 746.7,561.7 751.7,565.8 758.3,564.2 766.7,566.7 775,565.8 773.3,569.2 766.7,570.8 762.5,578.3 760,575 755,573.3 751.7,577.5 746.7,575.8 744.2,578.3 738.3,573.3 731.7,570" fill="#FECE65" stroke="#FECE65"/>
<polygon points="735.8,541.7 740,537.5 745,537.5 751.7,535 758.3,537.5 763.3,541.7 762.5,548.3 759.2,553.3 753.3,555 748.3,558.3 745,556.7 740,555.8 738.3,556.7 737.5,550" fill="#FEE79B" stroke="#FEE79B"/>
<polygon points="748.3,558.3 753.3,555 759.2,553.3 762.5,548.3 763.3,551.7 765,558.3 768.3,560 771.7,563.3 775,565.8 766.7,566.7 758.3,564.2 751.7,565.8 746.7,561.7 740,560 738.3,556.7 745,556.7" fill="#FEE79B" stroke="#FEE79B"/>
<polygon points="762.5,540 768.3,538.3 775,536.7 780,533.3 780,546.7 775,550 772.5,556.7 768.3,560 765,558.3 763.3,551.7 764.2,545" fill="#FEAC3A" stroke="#FEAC3A"/>
<polygon points="769.2,515.8 773.3,515 780,519.2 780,533.3 775,530 770.8,526.7 770,521.7" fill="#FEAC3A" stroke="#FEAC3A"/>
<polygon points="711.7,568.3 716.7,566.7 723.3,568.3 727.5,565 731.7,570 738.3,573.3 744.2,578.3 746.7,575.8 751.7,577.5 755,573.3 760,575 762.5,578.3 766.7,580 770,586.7 775,590 776.7,596.7 777.5,605 771.7,610 763.3,611.7 755,609.2 746.7,610 740,611.7 733.3,608.3 726.7,606.7 720,608.3 715,603.3 718.3,598.3 721.7,593.3 719.2,586.7 723.3,583.3 725.8,580 723.3,576.7 718.3,575 711.7,575.8 713.3,571.7" fill="#FFFFE5" stroke="#FFFFE5"/>
<polygon points="697.5,576.7 700,574.2 705,573.3 711.7,575.8 718.3,575 723.3,576.7 725.8,580 723.3,583.3 719.2,586.7 715,590.8 710,590 706.7,585 702.5,581.7 699.2,580" fill="#FEAC3A" stroke="#FEAC3A"/>
<polygon points="738.3,611.7 746.7,610 755,609.2 763.3,611.7 766.7,616.7 763.3,621.7 758.3,623.3 753.3,621.7 748.3,618.3 743.3,618.3 740,615" fill="#FEE79B" stroke="#FEE79B"/>
<polygon points="753.3,621.7 758.3,623.3 763.3,621.7 766.7,616.7 763.3,611.7 771.7,610 775,618.3 771.7,626.7 773.3,635 775,643.3 773.3,648.3 768.3,645 763.3,636.7 760,630 756.7,626.7" fill="#FFF8C1" stroke="#FFF8C1"/>
<polygon points="768.3,620 770,613.3 773.3,610 777.5,608.3 780,613.3 780,621.7 776.7,623.3 774.2,626.7 771.7,626.7 770,623.3" fill="#FEAC3A" stroke="#FEAC3A"/>
<polygon points="774.2,653.3 775.8,650 780,649.2 780,665 775.8,664.2 773.3,660" fill="#F68720" stroke="#F68720"/>
<polygon points="677.5,663.3 680,660.8 686.7,657.5 690.8,655 695,650.8 699.2,653.3 698.3,660 696.7,665 699.2,670 696.7,673.3 691.7,675 686.7,673.3 685.8,680 680,680 682.5,673.3 684.2,668.3 680,667.5" fill="#FEE79B" stroke="#FEE79B"/>
<polygon points="722.5,680 721.7,673.3 724.2,669.2 727.5,668.3 728.3,673.3 731.7,676.7 736.7,675 738.3,680" fill="#C14702" stroke="#C14702"/>
<polygon points="740,670 746.7,666.7 753.3,668.3 760,663.3 766.7,661.7 774.2,660.8 780,665 780,680 738.3,680 739.2,675" fill="#FFF8C1" stroke="#FFF8C1"/>
<polygon points="828.3,480 838.3,485 848.3,491.7 846.7,498.3 850,505 855,511.7 861.7,509.2 866.7,512.5 865.8,516.7 858.3,517.5 855,523.3 853.3,528.3 860,535 860,541.7 866.7,544.2 875,545 880,546.7 885,550 891.7,551.7 896.7,548.3 901.7,543.3 905,536.7 903.3,531.7 914.1,524.2 916.6,526.7 918.8,531 919.4,533.5 918.6,530.4 920,526.7 915,520 910,513.3 905,506.7 901.7,498.3 898.3,490 893.3,480 888.7,480.8 887.5,479.3 885.3,477.9 883.1,476.5 880.9,475.1" fill="#FFFFE5" stroke="#FFFFE5"/>
<polygon points="846.7,498.3 853.3,493.3 860,490 868.3,488.3 873.3,495 876.7,501.7 880,508.3 886.7,513.3 890,521.7 886.7,528.3 880,526.7 873.3,528.3 868.3,525 866.7,518.3 865.8,516.7 866.7,512.5 861.7,509.2 855,511.7 850,505" fill="#D9D9D9" stroke="#D9D9D9"/>
<polygon points="866.7,536.7 873.3,533.3 880,531.7 888.3,530 891.7,533.3 890,538.3 885,541.7 876.7,543.3 870,541.7" fill="#FFF8C1" stroke="#FFF8C1"/>
<polygon points="898.3,546.7 901.7,543.3 905,540 910,538.3 919.2,540.9 918,539.1 921.8,545 920.3,546.6 919.8,550.2 917.6,556.4 915.9,557.6 912.8,557.2 909.4,556.8 907.1,557.5 904.4,558.8 900,550" fill="#FFF8C1" stroke="#FFF8C1"/>
<polygon points="790.8,505 798.3,501.7 800,495 804.2,491.7 803.3,486.7 808.3,485 815,488.3 820.8,492.5 821.7,498.3 823.3,505 818.3,508.3 817.5,513.3 815,518.3 808.3,517.5 801.7,518.3 795.8,515.8 794.2,510" fill="#FFF8C1" stroke="#FFF8C1"/>
<polygon points="770,520 776.7,517.5 785,520 790,516.7 795.8,515.8 801.7,518.3 808.3,517.5 808.3,523.3 804.2,530 800,535 795.8,537.5 793.3,533.3 785,535 784.2,530 776.7,531.7 770.8,526.7" fill="#FEAC3A" stroke="#FEAC3A"/>
<polygon points="823.3,505 826.7,500.8 831.7,497.5 838.3,500 843.3,503.3 841.7,506.7 835,510 830,513.3 826.7,511.7" fill="#FECE65" stroke="#FECE65"/>
<polygon points="830,513.3 835,510 841.7,506.7 846.7,508.3 850,513.3 855,516.7 856.7,521.7 853.3,525 850,530 845,530 841.7,526.7 836.7,521.7 831.7,518.3" fill="#FEE79B" stroke="#FEE79B"/>
<polygon points="822.5,531.7 826.7,526.7 828.3,520 831.7,518.3 836.7,521.7 841.7,526.7 845,530 843.3,535 838.3,540 835,546.7 830,543.3 826.7,538.3" fill="#FFFFE5" stroke="#FFFFE5"/>
<polygon points="846.7,556.7 853.3,550 860,546.7 866.7,544.2 875,545 875,550 870,553.3 868.3,560 861.7,563.3 860,570.8 855,566.7 850,561.7" fill="#FFF8C1" stroke="#FFF8C1"/>
<polygon points="776.7,550 778.3,543.3 783.3,540 785,535 793.3,533.3 795.8,537.5 800,535 804.2,530 808.3,543.3 810.8,548.3 806.7,553.3 808.3,561.7 811.7,572.5 803.3,574.2 795,575.8 800,573.3 798.3,568.3 793.3,563.3 786.7,562.5 783.3,566.7 776.7,565 770,566.7 766.7,563.3 768.3,558.3 773.3,555" fill="#FFF8C1" stroke="#FFF8C1"/>
<polygon points="763.3,541.7 768.3,538.3 776.7,536.7 781.7,531.7 785,535 783.3,540 778.3,543.3 776.7,550 773.3,555 768.3,558.3 763.3,558.3" fill="#FEAC3A" stroke="#FEAC3A"/>
<polygon points="783.3,566.7 786.7,562.5 793.3,563.3 798.3,568.3 800,573.3 795,575.8 791.7,577.5 788.3,573.3" fill="#F68720" stroke="#F68720"/>
<polygon points="760,576.7 766.7,580 768.3,588.3 771.7,596.7 776.7,600 777.5,606.7 770,613.3 768.3,620 766.7,626.7 760,630" fill="#FFFFE5" stroke="#FFFFE5"/>
<polygon points="775,583.3 781.7,581.7 790,579.2 795,575.8 803.3,574.2 811.7,572.5 820,570.8 823.3,567.5 825.8,570.8 823.3,576.7 828.3,573.3 833.3,570.8 838.3,575.8 843.3,578.3 848.3,581.7 846.7,586.7 850.8,593.3 854.2,600 855,604.2 850,606.7 843.3,610 835,611.7 830,615 828.3,621.7 825,626.7 820,632.5 813.3,636.7 810.8,627.5 808.3,631.7 800,636.7 793.3,640 785,646.7 776.7,650 773.3,655 772.5,646.7 776.7,641.7 775.8,635 771.7,628.3 768.3,620 770,613.3 776.7,606.7 777.5,600 775.8,593.3 773.3,588.3" fill="#FFF8C1" stroke="#FFF8C1"/>
<polygon points="773.3,588.3 775,583.3 785,581.7 793.3,578.3 803.3,575 815,574.2 818.3,580 816.7,586.7 810,588.3 803.3,586.7 796.7,588.3 790,591.7 783.3,595 778.3,593.3" fill="#D9D9D9" stroke="#D9D9D9"/>
<polygon points="781.7,613.3 785,608.3 791.7,606.7 798.3,610 803.3,615 805,621.7 803.3,630 800,636.7 793.3,640 785,646.7 776.7,650 773.3,655 772.5,646.7 776.7,641.7 775.8,635 778.3,623.3" fill="#D9D9D9" stroke="#D9D9D9"/>
<polygon points="823.3,600 828.3,596.7 833.3,600 831.7,606.7 826.7,608.3 823.3,605" fill="#D9D9D9" stroke="#D9D9D9"/>
<polygon points="828.3,580 833.3,576.7 836.7,581.7 835.8,588.3 831.7,591.7 828.3,586.7" fill="#D9D9D9" stroke="#D9D9D9"/>
<polygon points="783.3,595 790,591.7 796.7,588.3 803.3,586.7 810,588.3 816.7,586.7 818.3,593.3 816.7,600 810,603.3 803.3,606.7 798.3,610 791.7,606.7 785,608.3 781.7,603.3" fill="#FFFFE5" stroke="#FFFFE5"/>
<polygon points="767.5,615 770.8,611.7 775.8,613.3 777.5,618.3 775,625 772.5,628.3 770,623.3 767.5,620" fill="#FECE65" stroke="#FECE65"/>
<polygon points="860,573.3 860,570.8 861.7,563.3 868.3,560 870,553.3 875,550 876.7,545 881.7,546.7 888.3,551.7 890,558.3 899.3,560.6 903.4,557.2 904.3,557.8 900,566.7 901.7,573.3 903.3,580 898.3,583.3 893.3,580 886.7,576.7 880,575 875,578.3 870,580 866.7,575" fill="#FFF8C1" stroke="#FFF8C1"/>
<polygon points="881.7,573.3 886.7,568.3 893.3,565 900,566.7 901.7,573.3 903.3,580 898.3,583.3 893.3,580 886.7,576.7" fill="#FFFFE5" stroke="#FFFFE5"/>
<polygon points="875,550 876.7,545 881.7,546.7 888.3,551.7 890,558.3 886.7,560 881.7,558.3 876.7,555" fill="#FFFFE5" stroke="#FFFFE5"/>
<polygon points="886.7,556.7 891.7,551.7 896.7,548.3 901.7,553.3 905,558.3 901.7,560 898.3,561.7 890,558.3" fill="#D9D9D9" stroke="#D9D9D9"/>
<polygon points="848.3,581.7 853.3,578.3 860,573.3 866.7,575 870,580 868.3,586.7 871.7,593.3 866.7,595 861.7,596.7 858.3,600 855,604.2 854.2,600 850.8,593.3 846.7,586.7" fill="#FEE79B" stroke="#FEE79B"/>
<polygon points="870,580 875,578.3 880,575 886.7,576.7 893.3,580 898.3,583.3 895,586.7 890,590 888.3,595 883.3,593.3 876.7,596.7 871.7,593.3 868.3,586.7" fill="#D9D9D9" stroke="#D9D9D9"/>
<polygon points="858.3,600 861.7,596.7 866.7,595 871.7,593.3 876.7,596.7 883.3,593.3 888.3,595 888.3,601.7 887.5,608.3 883.3,610 878.3,611.7 875.8,616.7 873.3,617.5 866.7,621.7 862.5,618.3 860.8,610 859.2,603.3 855,604.2" fill="#FECE65" stroke="#FECE65"/>
<polygon points="897.5,562.5 903.4,557.2 908.5,560.4 912.1,562.7 916.4,566.2 918.2,568.9 919.8,573.4 919.4,574.3 919.4,578.7 920.1,581.7 920.4,586.6 918,588.9 914.9,590.3 908.3,585 903.3,581.7 901.7,573.3 900,566.7" fill="#FECE65" stroke="#FECE65"/>
<polygon points="888.3,595 890,590 895,586.7 898.3,583.3 903.3,581.7 908.3,585 916,589.2 915,590.2 915.1,592.1 914.3,595.1 913.8,598.4 914.1,601.7 913.3,605.8 910.7,607.6 907,609.8 904.4,612.6 906.3,610.2 902.5,603.3 901.7,599.2 896.7,597.5 891.7,597.5" fill="#E1640E" stroke="#E1640E"/>
<polygon points="888.3,601.7 888.3,597.5 891.7,597.5 896.7,597.5 901.7,599.2 902.5,603.3 906.3,610.2 904.4,612.6 901.2,616.1 897.4,621.1 895.1,622.7 893,624.8 892.1,626.3 893.1,624.5 881.7,623.3 876.7,621.7 875.8,616.7 878.3,611.7 883.3,610 887.5,608.3" fill="#933204" stroke="#933204"/>
<polygon points="820,632.5 828.3,621.7 830,615 835,611.7 843.3,610 850,606.7 855,604.2 859.2,603.3 860.8,610 862.5,618.3 866.7,621.7 868.3,622.5 866.7,627.5 860,630.8 856.7,635.8 856.7,640 855,646.7 853.3,653.3 850,651.7 846.7,656.7 841.7,660 836.7,656.7 833.3,656.7 826.7,653.3 823.3,650 817.5,648.3 818.3,643.3 821.7,638.3" fill="#C14702" stroke="#C14702"/>
<polygon points="856.7,635.8 860,630.8 866.7,627.5 868.3,622.5 873.3,617.5 876.7,621.7 881.7,623.3 893.1,624.5 892.5,625.7 891.8,626.8 890.3,629.4 888.7,631.9 887.5,635.5 886.9,637.2 885.5,639.9 875,636.7 868.3,638.3 863.3,637.5 858.3,640" fill="#662506" stroke="#662506"/>
<polygon points="856.7,640 858.3,640 863.3,637.5 868.3,638.3 875,636.7 885.5,639.9 883.2,643.3 881.6,644.9 879.6,648.8 879.3,653.5 880.7,657.7 880.3,656.5 874.5,664.5 866.7,655 861.7,654.2 856.7,655.8 853.3,653.3 855,646.7" fill="#933204" stroke="#933204"/>
<polygon points="841.7,660 846.7,656.7 850,651.7 853.3,653.3 856.7,655.8 861.7,654.2 866.7,655 874.5,664.5 880.3,656.5 880.7,657.7 876.2,664.3 873.5,665.3 870.1,667.7 866.8,670 864.8,673.4 861.3,676.6 858.1,679.3 854.8,681.9 852.1,683.7 849.7,685.1 840,680 838.3,671.7 840,665" fill="#E1640E" stroke="#E1640E"/>
<polygon points="855,658.3 860,656.7 865,657.5 870.3,667.6 866.9,669.6 858.3,665 855.8,662.5" fill="#F68720" stroke="#F68720"/>
<polygon points="808.3,668.3 810.8,660 813.3,653.3 817.5,648.3 823.3,650 826.7,653.3 833.3,656.7 836.7,656.7 841.7,660 840,665 838.3,671.7 833.3,675 828.3,680 823.3,676.7 816.7,673.3 811.7,671.7" fill="#FECE65" stroke="#FECE65"/>
<polygon points="773.3,655 776.7,650 785,646.7 793.3,640 800,636.7 808.3,631.7 810.8,627.5 813.3,636.7 820,632.5 821.7,638.3 818.3,643.3 817.5,648.3 813.3,653.3 810.8,660 808.3,668.3 806.7,673.3 805,680 780,680 783.3,671.7 785,665 780,663.3 775,661.7" fill="#F68720" stroke="#F68720"/>
<polygon points="768.8,439.8 777,440.5 786,442.8 793.5,443.5 798,442 799.5,449.5 795,449.5 792,445 786,445 784.5,451 780,448 775.5,446.5 774,451 771,449.5 768,446.5" fill="#FFFFE5" stroke="#FFFFE5"/>
<polygon points="723,476.5 735,470.5 750,467.5 763.5,467.5 771,464.5 777,466 775.5,472 772.5,478 778.5,481 784.5,479.5 790.5,481 798,484 801.8,490 801.8,496 796.5,502 791.2,505 789,505 783,500.5 775.5,497.5 768,499 762,502 757.5,496 747,490 735,493 726,490" fill="#FFFFE5" stroke="#FFFFE5"/>
<polygon points="801.8,490 804,485.5 808.5,487 813,490.8 810,496 804,497.5 801.8,496" fill="#FFF8C1" stroke="#FFF8C1"/>
<polygon points="721.5,493 726,490 735,493 747,490 757.5,496 762,502 759,508 760.5,515.5 757.5,518.5 751.5,520.8 742.5,520 732,515.5 724.5,508 720,499" fill="#FEE79B" stroke="#FEE79B"/>
<polygon points="775.5,532.8 783,532.8 784.5,535.8 792,538 798,538 804,542.5 810.8,547.8 808.5,551.5 806.2,556 810,563.5 811.5,569.5 804,574 798,577 792,569.5 786,562 780,559 775.5,556 771,559 769.5,553 772.5,544 777,538" fill="#FFF8C1" stroke="#FFF8C1"/>
<polygon points="783,566.5 786.8,562.8 792,563.5 796.5,566.5 799.5,572.5 798,577 793.5,576.2 789,572.5 786,569.5" fill="#F68720" stroke="#F68720"/>
<polygon points="762.8,541 769.5,538 775.5,532.8 783,532.8 784.5,535.8 780,540.2 777,544 775.5,550 772.5,556 769.5,559.8 765,559 764.2,553 762.8,547" fill="#FEAC3A" stroke="#FEAC3A"/>
<polygon points="817.5,469.8 825,469 829.5,472 832.5,478 838.5,474.2 844.5,473.5 849,478 853.5,478 855,473.5 861,470.5 870.5,465.8 870.2,464.8 872.8,468.6 874.3,470.2 877,472.2 880.4,474.8 884,477.1 886.7,478.8 889.2,481.7 890.5,484.3 891.9,487 893.3,489.8 894.7,492.6 896.2,495.6 898,498.1 899.7,501.6 900.8,504.5 902.1,507.2 903.7,509.9 905.3,512.6 906.6,514.8 907.6,516.2 900,547.8 891,551.5 883.5,550 879,545.5 874.5,546.2 868.5,542.5 861,542.5 858,535 853.5,529 853.5,524.5 856.5,520 857.2,516.2 864,517 867.8,515.5 866.2,511 861,509.5 858,514 853.5,512.5 850.5,506.5 846,503.5 847.5,499 849,493.8 841.5,491.5 838.5,487 829.5,484 823.5,482.5 822,478 817.5,475" fill="#FFFFE5" stroke="#FFFFE5"/>
<polygon points="846,485.5 852,482.5 858,479.5 864,479.5 870,484 874.5,490 873,497.5 876,503.5 882,505 886.5,508 885,514 879,518.5 874.5,515.5 870,511 868.5,505 864,508 859.5,509.5 855,511 852,508 850.5,506.5 846,503.5 847.5,499 849,493.8" fill="#D9D9D9" stroke="#D9D9D9"/>
<polygon points="860.2,511 864,508.8 867.8,511 867.8,515.5 864,517 861,516.2" fill="#FEE79B" stroke="#FEE79B"/>
<polygon points="843,532 846,529.8 852,529 858,535 861,542.5 855,544 849,542.5 844.5,538" fill="#FFF8C1" stroke="#FFF8C1"/>
<polygon points="846,557.5 850.5,551.5 856.5,548.5 864,545.5 870,544 874.5,546.2 873,553 868.5,559 864,562 861,566.5 855,565 850.5,562" fill="#FFF8C1" stroke="#FFF8C1"/>
<polygon points="757.5,480 762.5,477.5 771.2,476.2 777.5,480 778.8,485 776.2,490 771.2,492.5 765,491.2 760,487.5" fill="#D9D9D9" stroke="#D9D9D9"/>
<polygon points="716.7,603.3 723.3,600 778.3,600 776.7,605 771.7,610 766.7,613.3 763.3,610.8 755,610 746.7,610 740,612.5 733.3,606.7 723.3,605" fill="#FFFFE5" stroke="#FFFFE5"/>
<polygon points="756.7,611.7 763.3,610.8 766.7,613.3 768.3,620 771.7,626.7 771.7,633.3 773.3,640 775,646.7 770,648.3 766.7,640 763.3,633.3 760,626.7 758.3,620" fill="#FFF8C1" stroke="#FFF8C1"/>
<polygon points="740,612.5 746.7,610 755,610 756.7,611.7 758.3,620 755,621.7 750,616.7 745,618.3" fill="#FEE79B" stroke="#FEE79B"/>
<polygon points="768.3,620 770,615 773.3,612.5 777.5,615 776.7,620 774.2,623.3 773.3,629.2 771.7,626.7" fill="#FEAC3A" stroke="#FEAC3A"/>
<polygon points="778.3,600 823.3,600 821.7,606.7 815,608.3 806.7,611.7 800,615 790,610 785,608.3 781.7,613.3 778.3,610" fill="#FFFFE5" stroke="#FFFFE5"/>
<polygon points="803.3,623.3 806.7,616.7 813.3,613.3 821.7,611.7 828.3,610 831.7,615 830,616.7 828.3,625 820.8,631.7 820,640 813.3,638.3 810.8,627.5 806.7,626.7" fill="#FFF8C1" stroke="#FFF8C1"/>
<polygon points="773.3,656.7 776.7,650 785,646.7 793.3,641.7 800,636.7 806.7,633.3 810.8,627.5 813.3,638.3 820,640 818.3,648.3 811.7,658.3 808.3,666.7 806.7,675 800,678.3 793.3,677.5 785,678.3 780,675 785,671.7 786.7,665.8 778.3,663.3 773.3,661.7" fill="#F68720" stroke="#F68720"/>
<polygon points="820,640 820.8,631.7 828.3,625 830,616.7 840,610 840,656.7 836.7,658.3 830,656.7 823.3,651.7 818.3,650 818.3,648.3" fill="#C14702" stroke="#C14702"/>
<polygon points="808.3,666.7 811.7,658.3 818.3,650 823.3,651.7 830,656.7 836.7,658.3 840,656.7 840,666.7 833.3,670 828.3,676.7 823.3,681.7 820,676.7 813.3,673.3" fill="#FECE65" stroke="#FECE65"/>
<polygon points="825,686.7 823.3,681.7 828.3,676.7 833.3,670 840,666.7 844.5,691 842.8,692.7 841.2,694.4 838.8,696.6 836.5,698.5 834.2,700.4 831.8,702.3 833,701.4 828.3,693.3" fill="#F68720" stroke="#F68720"/>
<polygon points="740,669.2 746.7,667.5 753.3,668.3 756.7,663.3 761.7,660.8 768.3,664.2 778.3,663.3 786.7,665.8 785,671.7 780,675 778.3,680 781.7,685 780,693.3 775,692.5 771.7,698.3 771.7,705 768.3,708.3 765,713.3 760,716.7 756.7,715 753.3,716.7 750,715 746.7,716.7 741.7,715 738.3,710 733.3,708.3 728.3,708.3 726.7,703.3 730.8,698.3 731.7,693.3 735.8,688.3 738.3,683.3 737.5,678.3 740,673.3" fill="#FFF8C1" stroke="#FFF8C1"/>
<polygon points="725,713.3 728.3,708.3 733.3,708.3 738.3,710 741.7,715 746.7,716.7 743.3,720 740,723.3 738.3,728.3 741.7,733.3 746,740.2 744,740.7 738.9,742.2 733.8,743.5 728.3,744.9 726.7,733.3 725,726.7 728.3,723.3 730.8,721.7 723.3,720 718.3,720 715.8,715 720,716.7" fill="#FECE65" stroke="#FECE65"/>
<polygon points="708.3,731.7 710,728.3 713.3,723.3 718.3,720 723.3,720 730.8,721.7 728.3,723.3 725,726.7 726.7,733.3 728.3,744.9 726.8,745.4 722.3,746.9 717.3,748.5 716.5,748.8 713.3,741.7 710,738.3" fill="#E1640E" stroke="#E1640E"/>
<polygon points="697.5,738.3 698.3,733.3 705,731.7 708.3,731.7 710,738.3 713.3,741.7 716.5,748.8 717.3,748.5 714.2,749.7 712.9,752.3 712.4,751.7 714.3,754 715.5,762.1 712.9,767.6 710.3,768.9 706.4,769.8 701.8,768.9 697.8,765.3 696.2,762.7 694.8,758.8 693.9,753.6 695.4,747.3 695.2,745.6" fill="#FECE65" stroke="#FECE65"/>
<polygon points="738.3,728.3 740,723.3 743.3,720 746.7,716.7 750,715 753.3,716.7 756.7,715 760,716.7 759.2,723.3 756.7,730 756.9,739.7 749.3,740.7 745.6,740.3 741.7,733.3" fill="#FFF8C1" stroke="#FFF8C1"/>
<polygon points="751.7,706.7 755,701.7 758.3,706.7 760,711.7 760,716.7 756.7,715 753.3,716.7 750,715" fill="#FECE65" stroke="#FECE65"/>
<polygon points="759.2,718.3 762.5,716.7 765.8,720 766.7,724.2 767.6,733.2 760.8,725" fill="#933204" stroke="#933204"/>
<polygon points="757.5,730 759.2,723.3 760.8,725 767.6,733.2 768,732.9 765.3,734.5 762.4,736.6 758.4,739.1" fill="#F68720" stroke="#F68720"/>
<polygon points="765,713.3 768.3,708.3 773.3,710 776.7,715 773.3,720 770,723.3 766.7,724.2 765.8,720" fill="#D9D9D9" stroke="#D9D9D9"/>
<polygon points="770,716.7 773.3,715 776.7,717.5 775,721.7 771.7,722.5" fill="#F68720" stroke="#F68720"/>
<polygon points="770.8,698.3 775,692.5 780,693.3 781.7,698.3 785,703.3 788.3,706.7 793.3,704.2 798.3,705 796.7,710 791.7,715 789,722.9 786.4,723.5 785,724.2 778.3,716.7 775,713.3 773.3,708.3 771.7,703.3" fill="#C14702" stroke="#C14702"/>
<polygon points="778.3,680 785,678.3 793.3,677.5 800,678.3 801.7,683.3 800.8,690 798.3,696.7 798.3,705 793.3,704.2 788.3,706.7 785,703.3 781.7,698.3 780,693.3 781.7,685" fill="#FECE65" stroke="#FECE65"/>
<polygon points="798.3,696.7 800.8,690 801.7,683.3 800,678.3 806.7,675 813.3,673.3 820,676.7 823.3,681.7 825,686.7 821.7,691.7 816.7,695.8 813.3,698.3 808.3,700 803.3,699.2" fill="#C14702" stroke="#C14702"/>
<polygon points="787.4,723.3 790.2,722.7 791.7,715 796.7,710 798.3,705 798.3,696.7 803.3,699.2 808.3,700 813.3,698.3 815,703.3 820,711.1 818.6,712.4 817.2,713.8 813,716 808.9,717.5 804,719.1 800.8,720.1 797.4,721 794,721.8 790.5,722.6" fill="#F68720" stroke="#F68720"/>
<polygon points="800,700 808.3,700 813.3,698.3 816.7,695.8 819.2,700 815,703.3 818,713 808.3,706.7 805,708.3 800.8,705" fill="#E1640E" stroke="#E1640E"/>
<polygon points="814.2,706.7 819.2,701.7 823.3,698.3 828.1,704.7 824.9,706.3 821.4,709.7 818,713" fill="#933204" stroke="#933204"/>
<polygon points="816.7,695.8 821.7,691.7 825,686.7 828.3,693.3 833,701.4 831.8,702.3 827.4,705.1 823.3,698.3 819.2,701.7" fill="#FECE65" stroke="#FECE65"/>
<polygon points="639.2,716.3 643.3,710 648.3,705.8 653.3,705 655,710 661.7,715 666.7,720 670,726.7 665,728.3 660,731.7 658.3,741.4 657.9,741.4 656.1,740.9 651.2,738.8 647.2,736.9 644.1,734.5 641.2,731.5 640,728.6 638.9,724 639.9,720.5 639.2,716.3" fill="#FEAC3A" stroke="#FEAC3A"/>
<polygon points="657.9,741.4 658.3,741.4 660,731.7 665,728.3 670,726.7 675,731.7 676.6,743.5 673.1,743.5 669.9,743 666.7,742.6 661.6,741.9" fill="#E1640E" stroke="#E1640E"/>
<polygon points="670,726.7 673.3,723.3 680,721.7 688.3,720 695,718.3 699.2,721.7 698.3,726.7 695,731.7 688.3,733.3 684.1,742.6 680.4,743.1 676.4,743.5 675,731.7" fill="#F68720" stroke="#F68720"/>
<polygon points="680.4,743.1 684.1,742.6 688.3,733.3 695,731.7 697.5,738.3 695,745.5 696.5,746.5 694.8,745.1 692.1,745.5 686.1,745.9 683.3,741.9" fill="#FECE65" stroke="#FECE65"/>
<polygon points="674.2,693.3 679.2,688.3 680,683.3 684.2,686.7 690,690.8 696.7,688.3 703.3,683.3 708.3,685 710,690 705,693.3 703.3,698.3 698.3,701.7 693.3,704.2 688.3,706.7 688.3,710 693.3,715 698.3,713.3 703.3,710 711.7,709.2 715.8,715 718.3,720 713.3,723.3 710,728.3 705,731.7 698.3,733.3 695,731.7 698.3,726.7 699.2,721.7 695,718.3 690,713.3 686.7,706.7 681.7,701.7 676.7,698.3" fill="#FEAC3A" stroke="#FEAC3A"/>
<polygon points="688.3,706.7 693.3,704.2 698.3,701.7 703.3,698.3 705,693.3 710,690 713.3,695 715,703.3 713.3,710 711.7,709.2 703.3,710 698.3,713.3 693.3,715 688.3,710" fill="#FECE65" stroke="#FECE65"/>
<polygon points="710,690 708.3,685 713.3,683.3 718.3,696.7 721.7,693.3 726.7,688.3 731.7,693.3 730.8,698.3 726.7,703.3 728.3,708.3 725,713.3 720,716.7 715.8,715 711.7,709.2 713.3,710 715,703.3 713.3,695" fill="#FEE79B" stroke="#FEE79B"/>
<polygon points="677.5,665 678.3,660 685,656.7 691.7,651.7 696.7,653.3 697.5,661.7 695,670 698.3,675 703.3,678.3 703.3,683.3 696.7,688.3 690,690.8 684.2,686.7 680,683.3 683.3,678.3 685,671.7 681.7,668.3" fill="#FEE79B" stroke="#FEE79B"/>
<polygon points="713.3,684.2 720,680 722.5,671.7 725,668.3 728.3,671.7 728.3,676.7 733.3,675.8 737.5,678.3 738.3,683.3 735.8,688.3 731.7,693.3 726.7,688.3 721.7,693.3 718.3,696.7" fill="#C14702" stroke="#C14702"/>
<polygon points="574,580 576,579.3 580.7,578.7 582.7,573.3 585.3,572 588.7,570.7 592.7,571.3 594.7,574 600,573.3 602.7,572 602,565.3 605.3,563.3 610.7,559.3 614,558.7 618.7,562.7 622.7,564 624.7,568 622,571.3 618.7,576 620,581.3 624,586.7 626.7,590.7 633.3,594 636.7,597.3 636,600 633.3,599.3 629.3,597.3 625.3,596 623.3,599.3 625.3,602.7 630.7,604 634.7,606.7 636.7,611.3 633.3,614 628,614.7 623.3,616 620,612 618,608 613.3,608.7 609.3,612 605.3,612.7 602,610.7 600.7,605.3 602,600.7 600,597.3 596,596.7 592,597.3 590.7,600.7 586.7,603.3 584,600 581.3,596 578.7,593.3 576,589.3 575.3,584" fill="#FFF8C1" stroke="#FFF8C1"/>
<polygon points="590.7,538.7 594.7,544 598.7,548.7 605.3,549.3 608,552 610.7,556 614,556.7 615.3,549.3 618.7,545.3 624.7,548 626.7,554 626.7,560 622.7,564 618.7,562.7 614,558.7 610.7,559.3 605.3,563.3 602,565.3 602.7,572 600,573.3 594.7,574 592.7,571.3 588.7,570.7 585.3,572 582.7,573.3 580.7,578.7 576,579.3 574,580 576,575.3 578.7,572 579.3,566.7 577.3,563.3 579.3,558 576.7,553.3 581.3,550.7 586,548 587.3,542.7" fill="#FEE79B" stroke="#FEE79B"/>
<polygon points="594,507.3 596.7,508.7 600,512 605.3,515.3 608.7,520 613.3,522 616.7,521.3 616.7,526 618,533.3 621.3,538.7 624,544 624.7,548 618.7,545.3 615.3,549.3 614,556.7 610.7,556 608,552 605.3,549.3 598.7,548.7 594.7,544 590.7,538.7 594.7,536 597.3,532 592.7,529.3 590.7,526 596,523.3 592.7,520 591.3,515.3 595.3,513.3" fill="#FECE65" stroke="#FECE65"/>
<polygon points="596,577.3 600,576 605.3,578.7 610.7,579.3 614.7,582.7 616.7,586.7 613.3,588.7 609.3,587.3 605.3,585.3 600,584.7 596.7,582" fill="#FFFFE5" stroke="#FFFFE5"/>
<polygon points="620.7,537.3 625.3,534.7 632,531.3 637.3,533.3 642.7,536.7 646.7,540.7 646.7,545.3 643.3,549.3 639.3,552.7 634.7,554 630.7,557.3 628,559.3 626.7,554 624.7,548 624,544 621.3,538.7" fill="#FFFFE5" stroke="#FFFFE5"/>
<polygon points="629.3,559.3 630.7,557.3 634.7,554 639.3,552.7 643.3,553.3 648,556 651.3,560 652,562.7 648,566.7 644.7,567.3 642.7,564.7 640.7,562.7 637.3,563.3 634.7,564 631.3,561.3" fill="#FECE65" stroke="#FECE65"/>
<polygon points="622.7,564 626.7,560 629.3,559.3 631.3,561.3 634.7,564 637.3,563.3 640.7,562.7 642.7,564.7 644.7,567.3 646.7,572 647.3,578.7 646.7,584.7 640,586 640.7,590.7 637.3,593.3 636,600 636.7,597.3 633.3,594 626.7,590.7 624,586.7 620,581.3 618.7,576 622,571.3 624.7,568" fill="#FFF8C1" stroke="#FFF8C1"/>
<polygon points="634.7,576 636,571.3 640,568.7 644.7,569.3 647.3,573.3 647.3,578.7 646.7,584.7 641.3,586 637.3,584 635.3,580" fill="#FFFFE5" stroke="#FFFFE5"/>
<polygon points="574,640 574,622.7 578.7,618.7 584,613.3 586.7,605.3 590.7,600.7 592,597.3 596,596.7 600,597.3 602,600.7 600.7,605.3 602,610.7 605.3,612.7 609.3,612 613.3,608.7 618,608 616.7,613.3 617.3,618.7 613.3,621.3 608,624 602.7,621.3 600,620 594.7,623.3 590.7,626.7 588,630.7 589.3,636 590.7,640" fill="#FEE79B" stroke="#FEE79B"/>
<polygon points="748.3,361.7 751.7,361.7 754.2,358.3 758.3,356.7 761.7,358.3 766.7,356.7 770.8,354.2 775,353.3 777.5,355 780,356.7 783.3,357.5 778.3,360 774.2,362.5 773.3,364.2 777.5,366.7 781.7,367.5 782.5,372.5 784.2,373.8 782.5,376.7 781.7,380 780,383.3 777.5,383.3 774.2,382.5 772.5,380 770,377.5 765.8,375.8 763.3,371.7 762.5,367.5 760,365.8 755.8,366.7 752.5,368.3 749.2,368.3" fill="#FEE79B" stroke="#FEE79B"/>
</g>
<g fill="none" stroke="#5c5c5c" stroke-width="1" stroke-linejoin="round" shape-rendering="crispEdges">
<polyline points="458,308 455.1,308.6 451.2,312.5 453,317.5 452.2,321.1 452.5,323.8 450.1,324.9 447,326.7 444.5,328.6 441,329.1 438.8,331.2 435,328.8 432.3,330.3 429.1,331.2 425.5,333.8 422.5,335 419.6,338.1 418.1,339.3 415,342.5 412.4,346.3 411.2,350 408.7,350.3 404.5,350.9 401.1,351.1 398.6,352 395.5,352.5 394.6,355.5 394,359.1 393.8,362.5 392.4,365.6 392.1,370.1 390.5,373.8 388.2,375.9 385.5,378.8 386.2,383.8 383.2,385.1 378.2,385.2 375,386.2 372.3,387.3 369.6,387.7 366.4,388.9 362.6,389.6 360.4,390.8 356.8,391.3 353.8,392 350.4,393 348.7,394.7 345.5,396.2 348.3,398.2 352,400 352.5,403.6 352.2,406.6 352.5,410 355.8,412.5 359.2,414 362.5,416.2 364.3,419.3 366.2,423.8 362.5,426.2 360.7,428.1 357,430 357.8,432.6 358.8,436.2 360.7,440.7 362.5,443.8 359.8,443.4 356.8,442.6 353.2,443.1 350.1,442 346.6,441.7 343.8,441.2 342.5,445 338.8,444.1 333.8,444.5 331.4,443.8 328.7,442.6 325.8,441.2 322.5,440 319.3,438.6 315.2,438 312.5,436.2 309.5,436.1 306.3,436.8 302.9,437 300,437.5"/>
<polyline points="474.6,307.8 474.1,310.8 476.1,314.2 476.3,315.7 478.7,319.4 479.9,321.5 481.2,324.7 482.5,326.8 483.8,330 481.2,332.1 478.8,334.5 481.6,337.9 484.4,339.9 486.2,342.5 489.3,344 492.5,346.2 492.5,348.9 493.8,353 496.9,351.2 500,350 503.6,349.9 507.5,348.8 510.9,347.9 513.8,346.1 517.5,345.8 521.6,346.1 526.2,347.5 527,352.5 525.9,356.1 525.1,357.9 523.8,361.2 521.5,363.1 518.5,364.7 515.7,366 512.5,367 515.4,368.7 519.4,368.6 522.2,370.5 525,371.2 527.7,373.1 530.6,375.6 533.4,377.4 536.2,378.8 537.9,382.4 540,385 543.3,386.4 545.6,388.6 548.6,389.5 550.7,390.8 553.8,392.5 556.6,389.5 558.8,387.5 555,383 559.3,381.5 563,380.4 566.2,379.5 570,381 572.5,382 575.3,380.6 578.4,379.2 580.7,377.2 583.8,376.2 586.9,376.7 590.2,375.4 593.5,376.2 596.2,375.8 597.6,378.4 598.3,381.3 598.8,385 596.5,386.7 593.4,389.7 591.2,391.2 587.5,393.7 585,396.2 585.1,399.2 583.8,403.4 583.8,406.2 587.4,409 591.2,411.2 593.5,412.7 596.6,414.8 600,416.2"/>
<polyline points="386.2,383.6 389.1,383.2 391.7,382.7 395,382 400,383.8 401.2,387 405.4,386.7 410,386.2 412,390 415.2,389.4 417.5,390.5 421.2,390 422.8,393.6 425,398 429.4,397.6 432.9,397.3 436.2,397 439.3,397.3 442.3,399.2 445,399.5 448.8,401.1 452.5,402 456.1,399.9 459.5,399.1 462.5,397.5 465,393.8 468.8,391.2 468.1,386.8 468,383.8 472.5,381.2 476.3,382.8 479.5,385.1 482.5,386.2 485.9,388.1 488.8,388.8 492.5,384.5 497.5,386.2 502.5,383.8 505.5,386.7 508.8,388.8 511.6,391.9 515.1,393.2 517.5,396.2 520.1,397.7 523.8,400 526.2,396.2 529.8,397.8 532.2,399.3 535,401.2 537.5,402.9 540,405 543.1,406.4 546.8,408.1 550,408.8 553.2,410.5 556.4,411.6 558.8,412 560.9,414.9 562.5,418.8 566.2,422 568.8,423.8 570,428.2 570,432.5 572.4,435 574.6,438.4 576.2,441.2 575.3,445 575,450"/>
<polyline points="911.2,91.7 911.8,94.7 913.8,97.5 910.9,99.1 908.7,101.4 905.7,103.9 903.8,106.2 907.3,108.3 910,109.1 912.5,111.2 915.9,110.1 918.7,109 922.5,108.8 924.6,111.1 928,112.6 930,113.8 931,116.5 931,120.2 932.2,123.6 932.5,126.2 934.9,128.8 936.2,132.5 940.7,133.6 945,134.2 948.2,133.5 951.4,133.1 955.3,134 957.9,132.9 961.6,133.1 964.8,133.2 967.5,132.5 970.7,129.6 973.8,127 976.8,127.9 979.1,128.7 982.5,130 984.8,131.7 985.6,134.9 987.8,137.2 990,139.5 988.1,142.6 986.2,146.2 985.2,148.3 982.7,150.9 981.2,153.8 978.9,156.6 976.2,160 975.2,163.3 974.3,165.9 973.8,168.8 975.6,171.3 976.2,175 972.5,176.9 970,179.5 968.5,182.4 966.2,185 964.9,188.2 963.9,191.8 962.8,195.6 962.5,198.8 961.8,196.7 960.4,193.9 958.8,190.5 955,193.1 952.5,196.2 949.8,198.7 945.7,201 942.5,202.5 939.5,204.5 936,205.2 933,206.7 930,208.8 927.9,212.3 926.2,214.5 929.1,216.6 932.5,220 933.7,222.6 936.2,226.2 940.4,224.2 943.8,222.5 947,225.5 945,228 941,228.4 937.5,230 936.2,235 940,235.5 942.5,236.2 945.4,235.6 948.5,235.7 952.5,236.2 953.4,240.1 953.8,245 956,247.2 959,250.1 961.7,251.6 965,253.8 968.5,253.3 971.9,253.1 974,252.7 977.5,252.5 979.8,253.6 982.9,255.5 986.2,256.2 990.4,256.6 993.1,256.7 997.5,257.5 1000,257.9 1002.9,259.7 1006.2,260 1006.6,262.3 1008.5,266 1008.8,268.8 1013.2,270.5 1016.2,272.5 1018.4,275.2 1019.9,277.8 1021.2,280 1026.2,277.5 1029.3,275.1 1032.5,273.8 1034.2,276.8 1037.3,279.3 1038.8,281.2 1039.4,284.8 1040.8,288.1 1041.2,291.2 1044.2,289.6 1046.5,288.1 1048.8,286.2 1051.9,286.2 1056.3,284.4 1059.7,285 1062.5,283.8 1065.6,285.2 1068.9,287.4 1071.2,290 1074.8,291.5 1076.5,292.1 1080,293.8"/>
<polyline points="936.2,235 934.4,237.4 932.5,240 931.4,244.1 930,247.5 927.3,246.3 923.8,243.8 920.3,243.5 916.2,242 912.5,246.2 915,249.3 918.8,252.5 921.2,257.5 921,261 920.2,263.6 918.8,267.5 920.4,270.5 922.2,274.3 923.8,277.5 926.5,276.3 930.2,276.4 933.8,275 937.5,272.5 939.5,274.5 941.2,277 942.5,280 943.5,282.8 943.5,287.2 945,290 942.5,293.8 947.5,296.2 950,293.8"/>
<polyline points="950,293.8 952.5,295.4 956.7,298.2 960,300 963.7,301.6 967.5,303.8 969.3,307.1 972.5,310 974.1,312.9 975.7,315.4 977.5,317.5 977.8,321.7 978.8,325 981,328.6 982.5,332.5 983.8,336.5 985,340 984.5,342.8 986.3,345.2"/>
<polyline points="500,540 500.7,542.6 502.1,545.7 502.9,549.2 503.8,552.5 503.5,555.6 503.8,558.7 504.1,561.3 505,565 505.1,568.8 504.9,571.3 505.8,575.6 505.9,578.2 506.7,581 506.2,585 507.5,588.2 507.2,591.5 508.2,595.9 508.8,599.1 510,602.5 511.4,599.2 512.5,596.2 517.5,593.8 519.4,596 520.6,599 523.4,602.1 525,605 526.4,608.1 528.3,610.6 530,613.8 533.5,613.4 536.2,612.5 537.7,616.4 540,620 541.7,623 543.7,624.7 545,627.5 546.9,630.1 547.4,634.1 548.3,636.9 550,640 551.4,643.2 554.5,646 556.2,648.8 559.9,647.2 562.5,646.2 566.5,645.1 570,643.8 573.2,643.1 576.2,642.5 576.1,639.4 575,635 575,631.9 574.4,628.6 575,625 577.7,623.2 580,620"/>
<polyline points="506.8,587.8 503.9,588.4 500,590 498.8,593.6 497.8,596.2 497.5,598.8 495.1,601.5 493.8,605 492.6,605.6 489.7,606.6"/>
<polyline points="588.8,626.2 589.9,629.8 591.2,633.8 593.8,636.8 597.5,638.8 600,638.2 603.8,637.5 606.2,642.5 604.7,644.4 602.1,647.7 600,650 599.4,652.9 600,656.2 602.8,659.1 605.3,661.6 607.5,665 607.1,668.2 607.5,672.5 605.7,675.6 603.8,677.5 605.8,681 607.5,683.8 611.1,685.3 615,686.2 618.8,690 621.9,689.1 626.2,688.8 629.6,690.3 632.5,691.2 633,694.4 633.8,698.8 630.5,699.6 627.6,701.7 625,702.5 623.7,703.4 621.2,705"/>
<polyline points="146.2,478.8 149.2,478.5 152.3,478.2 155.3,477.6 158.6,478.2 161.2,477.5 162.3,473.7 163,470.6 163.8,467.5 165.5,465.2 168.6,461.1 170,458.8 173.6,459.1 176.1,458.8 179.6,459.3 182.5,459.5 185.7,460.6 187.8,461.5 191.2,462 194.8,462 197.2,460 200,460 201.8,456.4 205,453.8 209,453.1 211.5,453.5 215,452.5 216.6,455.3 218.8,458 222.4,457.9 226.4,459.5 230,459.5 232.9,458.9 236.5,458.4 240,458.8 242.9,457.3 246.1,455 248.8,453 253.6,451.6 257.5,451.2 261.3,451.7 265,452.5 268.1,450.5 271.3,448.9 273.8,448 274.5,445.7 276.2,442.5 280.6,441.6 283.6,440.5 287.5,440 290.4,439.5 293.4,438.2 297.1,438.1 300,437.5"/>
<polyline points="337.3,444.7 337.1,447.7 340,450 337.9,453.4 336.5,456.6 333.8,460 335.4,462.9 336.5,465.6 338.6,468.8 340,471.2 338.9,473.9 338.4,477.6 338.8,479.6 338.7,483.9 337.5,486.2 339.6,488.9 340.8,490.5 343.2,493.1 345,496.2 347.1,497.9 349.3,500.3 352.5,502.5 355.5,503.6 358.8,503.9 361.9,504.6 365,505 367.9,505.7 371.7,507.7 374.5,508.3 376.7,508.6 380,510 382.6,510.2 386.2,511.5 389.2,512.3 392.3,513.8 393.9,513.8 397.5,515 401.2,515.6 404.4,516.1 406.3,517.1 410,517.5 413.4,516.7 415.4,516.3 419.6,516.4 421.5,515.1 425,515 427.2,515.9 431,517.6 433.5,519.6 436.2,521.2 437,524.5 438.2,527.3 440,530 443.2,531.1 447.5,532.5 450.8,530.9 455,530 459,531.3 461.4,532.2 465,532.5 466.2,527.5 469.6,526.1 473.8,525 475.5,521.4 476.2,517.5 480,518.2 485,517.5 487.1,518.8 490.4,520.6 492.5,522.5 493.5,525 494.4,528.9 495.9,532 497.5,535 499.1,537.1 500,540"/>
<polyline points="477,517.5 477,514.5 477.9,511.2 478.8,507.5 477.7,503.2 476.2,500 478,497.9 481.2,496.2 478.4,492.9 476.2,488.8 479.4,486.8 482.1,484.8 485,482.5 487.4,483.6 490.4,485.5 493.8,486.2 494.7,489.8 496.3,492.8 498.2,495.5 500,498.8 503,501 504.4,505.2 507.5,507.5 511.3,508.2 515,510 520,507.5 522.7,510.6 523.6,512.4 526.2,515 530.1,515.3 535,516.2 538.9,513.9 542.5,512.5 543.4,508.1 543.8,505 546.2,504.6 549.5,503.2 552.5,502.5 555.1,499.3 557.5,496.2 561.1,496.2 565,497.5 564.5,494.8 564,491.1 562.5,487.5 565.4,485.7 569,484.6 571.3,482.4 575,481.2 577.3,483.7 580,486.2 583.8,488.3 586,490.9 590,492.5 593.2,494.2 596.3,495.7 600,497.5"/>
<polyline points="575,450 572.9,452.1 571.2,453.8 569.7,457.2 568.8,460 565.9,462.4 562.5,463.8 559.6,467.1 557.5,471.2 557.7,474 558.8,477.5 562.5,481.2 559.7,481.6 556.3,482.7 552.8,484 550,485 547.1,483.5 542.7,481.4 540,480 537.5,483.8 540.2,487.4 543.8,490 547.1,492.5 550.1,494.5 552.5,496.2"/>
<polyline points="723.3,373.3 722.5,378.3 724.2,381.7 721.7,386.7 719.4,391.1 718.3,395 715.6,398.1 712.5,400 711.8,403 711.7,406.7 715,411.7 713.3,416.7 712.8,420.2 711.7,423.3 709.2,428.3 709.3,431.9 710,435 710.4,439.3 710.6,442.4 711.7,446.7 709.2,450.8 709.8,453.7 708.9,457.4 709.2,460 708.1,463.7 706.7,468.3 707.2,471.9 707.5,475"/>
<polyline points="654.2,415 658.2,411.4 660.8,409.2 666.7,410 667.5,413.3 670.7,412 673.3,411.7 677.3,410.6 680,410.8 680.8,405 685,405.8 685.1,402.8 684.2,399.2 687.6,397.8 690,395 690.8,390.8 693.4,387.7 696.7,385 700,381.7 702.8,378.4 705,375.8 706.7,378.3 711.7,378.3 714.7,376.3 718.3,375 720.1,374.4 723,374.9"/>
<polyline points="723.3,373.3 726.2,372.6 730,371.7 733.2,372.1 736.7,372.5 738,369.4 739.3,366.6 740.8,363.3 745,359.2 748,359.8 751.7,360 756.7,357.5 759.3,356.8 763.3,356.7 767.3,354.9 771.7,354.2 775,353.3"/>
<polyline points="771.7,383.3 770.5,386.7 769.8,388.9 768.3,392.4 766.7,395 768.3,396.7 770.2,399.5 771,403.2 773.3,406.7 775.3,410.5 776.7,415 775,418.1 773.3,421.7 772.1,426.5 770,430 765.8,433.3 767.8,437.3 770,440 768.8,443.5 769.4,445.6 768.3,449.2 767.8,452.2 766.7,455 763.6,456.7 759.2,459.2 755.5,461 751.7,461.7 747.7,461 743.3,460.8 739.4,463.5 736.7,465 733.3,468.2 730,470 726.1,471.7 723.3,472.5 720.4,473.9 716.7,474.2 712.9,474.3 710.5,474.7 707.5,475"/>
<polyline points="605,415.8 608.7,414.8 613.3,413.3 617.3,411.6 621.7,410.8 624.6,409.5 627.5,408.3 627.5,404.9 627.5,401.7 627.6,397.2 628.3,393.3 629.4,388.9 630,385 632.7,382.9 635,380 639.7,379.4 643.3,377.5 646.7,380 647.5,384.2 645,386.7 643.3,390 642.8,393 641.7,395.8 639.2,400 644.2,403.3 647.5,403.1 651.7,402.5 656.7,405.8 657.9,407.8 659.9,410"/>
<polyline points="654.2,415 654.2,418 654.2,423.3 650.5,423.8 646.4,423.6 642.5,423.7 641.5,427.5 640.8,430 638.3,433.3 639.2,438.3 642.2,439.9 645.8,442.5 647.5,446.7 645.8,450.8 642.2,451.3 639.2,452.5 639,455.9 639.2,460 636.7,462.5 633.3,460.8 630,457.5 625,455 620.8,452.5 618.3,448.3 620.8,445 619.9,441.4 620,438.3 618.3,435.6 616.8,432.2 615.8,430 613.3,427.2 611.7,424.2 609,422.4 606.7,420 605,415.8"/>
<polyline points="654.2,423.3 656.5,425.2 658.3,426.7 662.5,428.3 666.7,431.7 670.6,433.6 673.3,435 676.6,437.2 679.2,438.3 678.4,442.7 678.3,446.7 678.1,450.5 676.7,453.3 677.2,456.6 677.5,460.8 673.6,461.5 670,460.8 666.1,461.4 663.3,462.5 661.7,463.3"/>
<polyline points="772.5,334.2 774.9,332.4 778.3,330 779.3,326.6 780,323.3 784.2,320.8 790,321.7 789.9,325.1 791,327.8 790.8,330.8 795.8,331.7 798.8,329.2 801.7,327.5 804.3,326.1 808.3,325 813.3,325.8 816.1,323.7 819.2,322.5 821.1,320.8 824.2,320 826.7,315 831.5,313.7 835,311.7 839.3,311.9 842.5,311.7 843.9,314.8 846.7,318.3 850.8,322.5 851.7,327.5 849.2,330 851.2,332.4 853.3,335.8 858.1,336.1 861.7,336.7 866.7,338.3 864.5,341.2 863.3,343.3 861.7,346.7 863.7,349.8 866.7,351.7 869.9,354.3 873.3,356.7 875,359.2 877.1,361.8 878.5,364.5"/>
<polyline points="866.7,338.3 868,335.6 870,331.7 870.1,327.3 868.2,324.6 868.3,320 873.3,316.7 875.4,318.7 878.3,321.7 879.9,324.3 881.6,326.9 882.5,330 886,326.4 888.3,323.3 893.3,320 896.8,318.9 900.2,317.3 903.3,315 906.9,313.5 910,313.3 913.9,311.8 916.7,310 920.6,307.9 925,306.7 929.6,306.4 933.3,305.8 937.3,304.1 940,301.7 943.5,300.3 945.8,298.7 947.1,296"/>
<polyline points="800.8,365 804.7,363.1 807.5,360 807.2,356.1 805.8,353.3 809,352.1 812,350.6 815,350 818.3,345 822.5,343.3 824.2,345.7 826.7,348.3 829.6,349.1 833.3,350 836.7,351.7 833.3,355 832.5,359.2 835,361.7 830,364.2 825,364.2 824.3,366.9 825,370.8 822.4,371.5 819.2,372.5 815,375 812.1,374.1 809.2,372.5 805.7,371.9 802.5,372.5 800,369.2 800.8,365"/>
<polyline points="835,361.7 838,361.6 838.3,361.7 841.7,365 840,370 843.3,373.3 841.7,376.7 844.8,379.8 846,382.5"/>
<polyline points="824.9,370.8 825.7,373.7 824.8,378.3 824.2,381.7 824.2,384.6 823.3,388.3 828.3,390.8 833.3,393.3 837.5,394.2 839.1,395.6 842.1,395"/>
<polyline points="844.4,398.9 842,400.7 838.3,405 833.3,408.3 830.3,408.2 826.2,409 823.3,409.2 819.9,412.1 818.1,413.6 815,416.7 811.7,420 809.9,423.4 807.5,426.7 805,428.3 802.7,431.4 800,433.3 799.8,437.4 798.3,441.7 799.6,446.3 800,450 805,448.3 803.2,451 800,455 797.3,456.7 793.3,459.2 790.7,461.8 789.2,464.2 792.2,466.8 794,468.5 796.7,470 798.5,472.8 801.7,474.2 804.7,474.7 808.3,475 811.1,473.5 815,473.3 817.5,469.2 819.9,469.6 823.7,470.2 826.7,470 830.5,472.8 833.3,475.8 838.3,475 843.3,473.3 846.3,475 848.3,477.5 851.3,475.1 853.3,473.3 857.3,470.6 860,468.3 865.3,467.2 868,465.9"/>
<polyline points="770,440 773,439.8 777.6,439.8 781.7,439.2 786.5,439.6 790,440.8 795.3,441.4 798.3,441.7"/>
<polyline points="772.5,334.2 772.2,337.2 771.7,341.7 772.8,344.5 775,348.3 775.4,350.3 775,353.3"/>
<polyline points="775,353.3 776.5,355.9 776.7,356.7 775.5,359.4 774.2,362.5 775,366.7 778.4,369.7 780.8,373.3 781.3,376.4 781.7,380 776.7,383.3 774.6,384 771.7,383.3"/>
<polyline points="600,497.5 600.1,500.5 600.5,503.7 600.8,507.5 602.6,510.6 605.8,513.3 609.1,513.8 613.3,515 616.9,513.1 620.8,510.8 625.7,510.3 629.2,510 632.8,511.9 635,512.5 638.8,511.9 643.3,512.5 646.2,514.2 650,515 652.6,517.7 655,519.2 659,519.8 661.7,520 666.7,523.3 672.5,524.2 675.8,525 680,527.5 685,530 687.5,531.5 690,534.2 692.7,534.2 696.7,533.3 696.1,529.5 695,525 694.7,521.9 694.2,518.3 696.7,515.8 701,516 705,515 704.2,510 699.2,509.2 697.5,505 694.2,503.3 700,504.2 703.6,504.6 708.3,505 711.4,505.5 715,505 718.4,503.4 720.8,502.5 719,499.2 718.3,496.7 716.4,493.7 715,490 711.7,485 710,480"/>
<polyline points="628.3,510.1 628,507.1 625.8,501.7 628.3,496.7 631,495.3 635,495 636.1,491.9 637.5,488.3 638.2,483.6 640,480"/>
<polyline points="720.8,502.5 722.3,505.1 723.3,506.7 724.4,508.8 726.7,511.7 730,515 735,517.5 740,520 743.1,520.6 746.7,520 750.8,519.9 755,519.2 760,520 763.6,519.6 768.3,519.2 770,521.7 770.8,526.7 775,530 780,533.3"/>
<polyline points="672.9,524.3 672.2,527.2 671.7,527.5 673.3,530 675.8,534.2 670.8,536.7 668.8,540.2 666.7,543.3 666.3,545.9 665,549.2 660.8,551.7 656.7,553.3 654.8,556.8 652.5,559.2 652.2,561.7 650.8,565 646.7,567.5 643.3,565.8 641.7,562.5 636.7,561.7 631.7,560.8 628.3,560.8 624.2,563.3 623.3,568.3 621.8,571.3 620,574.6 618.3,576.7 619.2,580 621.7,583.3 624.2,586.7 626.5,590.2 627.5,593.3 630.3,594.2 633.6,594.9 636.7,596.7 638.3,600 641.7,596.7 645,595 647.7,592.8 650,590 655,588.3 658.3,585 663.3,586.7 666.5,588 670,588.3 672.2,591.7 673.3,595 675.3,597 676.7,600 680,605 682.7,605.3 686.7,604.2 689.2,600 688.7,596.3 689.3,593.7 688,589.8 688.3,586.7 690,581.7 693.3,577.5 696.7,575 699.6,573.8 703.3,573.3 706.7,572.5 710,568.3 707.5,563.3 707.1,560 707.8,556.5 708.3,553.3 707.9,549.5 708.3,546.7 705,546.7 703.9,543.9 704.2,540 700,537.5 698.6,535.7 696.7,533.3"/>
<polyline points="706.7,572.5 708.5,574.9 711.7,575.8 713.3,571.7 712.5,570 710,568.3"/>
<polyline points="710,568.3 713,567.9 716.7,566.7 720.1,567.9 723.3,568.3 727.5,565 729.9,568 731.7,570 734.7,572.3 738.3,573.3 741.3,576.1 744.2,578.3 746.7,575.8 751.7,577.5 755,573.3 760,575 762.5,578.3 766.7,575 768.3,580 771.6,584 774.2,586.7 775.8,589.3 778.4,592.4 780,595"/>
<polyline points="688,602.1 690.6,603.6 690.8,606.7 689.3,610.7 688.3,613.3 688.1,618.1 686.7,621.7 684.6,624.7 681.7,626.7 686.7,628.3 689.3,627.7 693.3,626.7 693.8,630.3 695,633.3 690.8,636.7 690.3,640.1 690,643.3 693.3,648.3 695,650.8 690.8,655 686.7,657.5 683.4,659.3 680,660.8 677.5,663.3 675.1,662.3 671.7,660 668.1,662.9 665,665 660,663.3 655,660 650,659.2 649.7,661.9 648.3,665 644.5,666.6 641.7,668.3 638.7,670 635,671.7 630.4,671.5 626.7,670.8 621.7,671.7 618.1,673 615,673.3 612,675.1 610,676.7 608,678.7 605.4,680.2"/>
<polyline points="848.3,491.7 847.8,494.4 846.7,498.3 848.5,502.1 850,505 853,508.4 855,511.7 858.5,510.3 861.7,509.2 866.7,512.5 865.8,516.7 862.1,516.6 858.3,517.5 856.9,520.5 855,523.3 853.3,528.3 855.2,530.4 858.1,532.7 860,535 860.6,539 860,541.7 863.8,542.4 866.7,544.2 870.3,544.3 875,545 880,546.7 885,550 888.2,551.1 891.7,551.7 894.7,550.1 896.7,548.3 898.3,546.7 901.7,543.3 903.5,540.1 905,536.7 903.3,531.7"/>
<polyline points="897.6,547.4 899.7,549.5 900,550 901.7,553.3 903.1,553.3 904.4,556"/>
<polyline points="876,545.3 875,548.2 875,550 870,553.3 868.7,556.5 868.3,560 864.6,561.5 861.7,563.3 860.9,567.3 860,570.8 857.4,573.1 855.1,576.2 853.3,578.3 850.5,580.5 848.3,581.7 845.2,579.3 843.3,578.3 838.3,575.8 835.7,573.2 833.3,570.8 828.3,573.3 826.2,575.5 823.3,576.7 824.6,573.5 825.8,570.8 823.3,567.5 820,570.8 816.2,571.6 811.7,572.5 810.2,568.6 808.7,565.6 808.3,561.7 806.9,557.1 806.7,553.3 808.9,551 810.8,548.3 808.3,543.3 807.4,540.2 806.7,537.3 805.9,533.2 804.2,530 801.9,532 800,535 795.8,537.5 793.3,533.3 789.1,533.7 785,535 784.2,530 781.4,530.6 779.8,533.1"/>
<polyline points="769.5,521 772,519.3 776.7,517.5 780.8,519.3 785,520 790,516.7 795.8,515.8 794.3,512.6 794.2,510 793.1,507.7 790.8,505 794,503.1 798.3,501.7 799.7,498.3 800,495 804.2,491.7 803.3,486.7 808.3,485 811.4,486.8 815.8,487.5 820,484.2 817.5,480"/>
<polyline points="811.6,572.2 808.7,573.1 803.3,574.2 799,574.6 795,575.8 792,578.1 790,579.2 786,580.7 781.7,581.7 778.5,582.3 775.2,583.3 772.9,585.2"/>
<polyline points="769.6,581.5 767.4,583.5 768.3,588.3 769.6,590.4 770.3,593.5 771.7,596.7 776.7,600 777.4,603.6 777.5,606.7 775.5,608.3 772.4,610.4 770,613.3 768.8,616.7 768.3,620 769.3,623.7 771.7,628.3 774,631.7 775.8,635 775.9,638.5 776.7,641.7 775,643.5 772.5,646.7 773.3,651.1 773.3,655 773.9,657.9 775,661.7 771.5,662.7 766.7,664.2 762.8,661.5 760,660"/>
<polyline points="848.3,581.7 847.4,584.6 846.7,586.7 848.1,590.3 850.8,593.3 852,596.6 854.2,600 855,604.2 850,606.7 846.9,608.8 843.3,610 839.1,610.8 835,611.7 830,615 828.5,618.3 828.3,621.7 825,626.7 822.3,630.1 820,632.5 820.9,635.8 821.7,638.3 819.9,640.3 818.3,643.3 817.5,648.3 815.9,651.2 813.3,653.3 811.9,656.1 810.8,660 809.6,664.1 808.3,668.3 806.7,673.3 806.2,676.8 805,680"/>
<polyline points="805,448.3 807,446.1 810.8,445 807.7,447 805,448.3"/>
<polyline points="795.8,515.8 798.7,516.3 801,517 804.4,517.7 808.5,518.5 807.9,521.3 807.9,523.8 808.2,527 808.5,530.5 807.7,531.1 804.8,531.9"/>
<polyline points="797.7,536.4 799.3,538.9 804,542.5 805.2,543.4 808.1,542.6"/>
<polyline points="815,473.3 817.5,475 817.5,475 822,478 823.5,482.5 826.3,483.2 829.5,484 832.4,484.8 835.5,485.8 838.5,487 841.5,491.5 845,492.6 847.9,493.3"/>
<polyline points="740,669.2 740,673.3 737.5,678.3 738.3,683.3 735.8,688.3 733.8,690.3 731.7,693.3 730.8,698.3 729,700.5 726.7,703.3 728.3,708.3 725,713.3 723.1,714.6 720,716.7 715.8,715 718.3,720 713.3,723.3 710,728.3 708.3,731.7 705,731.7 702,732 698.3,733.3 697.5,738.3"/>
<polyline points="695,650.8 698,651.2 699.2,651.7 701.7,646.7 706.7,650 708.6,647.4 711.7,645 715.3,644.5 720,643.3 722.5,644.4 725,646.7 724.8,650.3 725.8,653.3 729.2,655 726.7,660 725,663.3 721.7,668.3 720,671.7 722.5,671.7 725,668.3 728.3,671.7 728.3,676.7 733.3,675.8 734.9,676.8 737.6,678.1"/>
<polyline points="740,669.2 742.9,668.5 746.7,667.5 750,667.6 753.3,668.3 755.2,665.4 756.7,663.3 758.3,662.5 760,660"/>
<polyline points="775.8,642.8 773.5,640.8 773.3,640 772,634.5 774.6,633"/>
<polyline points="775,661.7 777.7,663.1 778.3,663.3 783.2,663.9 786.7,665.8 786.2,668.7 785,671.7 780,675 778.3,680 782.3,679 785,678.3 789.7,677.4 793.3,677.5 797.3,677.8 800,678.3 802.7,677 805.6,677.7"/>
<polyline points="808,669.2 810.9,670.1 813.3,673.3 816.8,675.5 820,676.7 823.3,681.7 825,686.7 826.6,690.3 828.3,693.3 829.3,697.3 831.2,699.6"/>
<polyline points="580,620 580.3,617 584,613.3 585.9,608.8 586.7,605.3 588.8,603 590.7,600.7 592,597.3 596,596.7 600,597.3 602,600.7 600.7,605.3 602,610.7 605.3,612.7 609.3,612 613.3,608.7 618,608 620,612 623.3,616 628,614.7 633.3,614 636.7,611.3 634.7,606.7 630.7,604 625.3,602.7 623.3,599.3 625.3,596 629.3,597.3 633.3,599.3 634.8,599.7 637.5,598.4"/>
<polygon points="300,177 303.8,178 304.9,181.2 305.8,184.8 307.5,188.8 311.2,190.5 314,193.2 317.5,195 320.5,197.7 323.3,199 326.2,201.2 330.1,200.8 334.3,201 337.5,201.2 340.2,202.7 342.8,204 346.2,205 349.2,207.3 351.2,210 353.7,213.8 355,217.5 358.5,220.6 361.2,223.8 361.7,226.6 362.5,230 360.6,232.7 360,236.2 361.2,241.2 359.4,244.4 356.2,247.5 355.8,251.2 355.5,253.8 358.8,258 362.4,259.2 365.5,258.6 369.7,259 372.5,260 376,260.4 379.4,261.2 382.1,260.3 385,261.2 387.3,261.3 391.4,260.9 393.9,261.1 396.7,261.1 400,262 403.1,263 406.2,264.4 410,265 412.7,266.7 416.3,269 420,271.2 423.7,272.7 426.9,275.1 430,276.2 432.6,277 436.5,277.1 439.5,277 440,281.2 443.8,285 445.5,288 446.3,290.8 448,293.9 450,297.5 452,299.6 455.1,302.9 457.5,305 458,308 462,308.4 464.7,308.2 468.4,307 472.5,307.5 475.7,308.1 478.9,308.1 482.9,309.5 486.4,309.4 490,310 493,309.7 497,311.2 500,310.7 502.8,310.9 506.3,311.6 509,312.2 512.5,312 516.3,311 519.9,311.1 522.6,310 526.9,309.2 530,309.2 533,310 535.9,309.6 539.9,310.3 542.5,310 546,311 549.4,311.6 552.4,312.7 555,313.8 557.7,316.5 560,318.8 562.8,319.6 566.4,320.7 569.6,320.5 572.5,321.2 575.3,322.9 578.3,323.8 581.8,325.3 584.1,326.1 587.5,327 590.2,327.3 594,327.6 597.4,327 600,327.5 602.5,326.2 605,330 608.6,330.4 611.2,331.2 614,328.6 617.1,326.4 620,325 622.9,324.2 626.8,322.5 630,321.9 632.4,321.3 636.4,320 639.3,319.2 642.5,318 646.1,317.5 649.7,315.8 652.1,314.8 656.2,314.5 659.3,314.6 663.6,314.4 666.2,314.6 670.4,314.6 672.9,314.9 677.3,314.9 680,314.5 683.4,313.6 686.9,313.2 690,313.2 694.5,313.2 697.5,312.5 702.5,309.5 706.1,309.4 710,308 712.1,305 714.7,302.9 718,300 720,297.5 723.8,296.4 726.6,294.7 730,292.5 733,290.6 734.5,288.2 737.5,287 735.3,283.4 733.8,280 730.2,277.9 728,276.2 727.5,271.2 729.7,268.2 732.2,265.7 734.1,263 736.2,260 739.8,260.8 742.6,262 745.9,262.2 750,263.8 753.3,264.1 757.4,264.6 760.4,266 763.9,266.8 767.5,267 770,265 773.2,263.8 776.6,262.1 779.6,261.3 782.5,259.5 784.6,257.1 786.2,253.8 788.9,253.7 793,253.5 795.5,252.1 799.6,252.6 802.5,252 804.9,251.1 808.5,249.3 811.3,247.8 813.8,246.2 815.4,242.5 817.5,240 820.2,238.7 822.9,236.6 825.7,235.6 829.8,234.5 831.4,232.5 835,231.2 838.6,230.1 842.1,229.7 845,229.5 847.9,229.5 851.5,228.1 854.4,228.8 857.5,228.3 860,227.5 863.2,227.7 866,228.2 870,228.8 873.1,228.7 877.3,230.1 880,230 880.4,226.6 880,223.8 877.6,219.9 876.2,216.2 873.4,213.8 872,211.6 869.4,209.4 867.5,207.5 864.6,205.2 861.3,204.3 857.5,202.5 854.4,201.8 851.2,200.5 846.8,201.7 843.4,201.7 840,202.5 837.5,205.6 835,207.5 830.9,205.7 827.5,203.8 825.2,203.6 821.7,203.8 818.6,204.4 815.6,204.1 812.5,205 807.5,203.8 804.3,201.9 802,198.8 806.2,196.2 807.1,193.2 809.6,190.5 810.4,188 810.9,185.6 813,183.3 815,179.4 815.8,177.1 816.6,175.2 817.9,171.9 819.4,169.3 820.7,167 822.5,163.8 826.2,164 830,165 833.5,165.4 836.6,166.5 839.9,167.5 842.5,168.8 845.8,167.5 848.8,166.2 851.9,163.7 855,162.5 858.2,162.1 861.1,161.3 863.8,160.3 867.5,160 871.2,156.2 867,152.5 869.1,149.1 870,146.7 871.4,142.5 873.8,140 875,136.8 876.9,134.1 879,132.2 881.2,128.8 883.8,126.4 886.8,124 890,121.2 892.6,118.5 896.2,116.2 894.9,113 894.3,110.3 893.8,107.5 890.7,106.4 885.9,106.8 882.5,106.2 885.5,103.5 887.5,101.2 889.8,98.8 892.3,96.9 895.4,94 897.5,92.5 900.2,92 903.9,92.6 906.3,91.4 910,92 912.5,91.3 916.3,91.4 918.8,90 922.5,89.8 925,88.8 928.6,87.9 931.3,88.2 933.7,86.9 937.6,86.3 940,86.2 943.1,85.9 947.2,86.9 950,87 952.6,88.3 955.8,89.1 958.8,91.2 962.9,91.7 966.1,93.7 970,94.5 973,95.9 977.2,96.8 980,97.5 982.4,100 985,101.2 987.8,103.8 991.2,105 993.2,108.8 995,112.5 997.2,114.8 998,118.7 1000,121.2 1000.6,124.9 1002.5,127.5 1004.1,130 1006.5,131.9 1007.5,135 1006.2,140 1007.6,142.6 1010.6,145.5 1012.5,147.5 1013.3,150.9 1015.2,153.4 1016.2,156.2 1016.4,159.6 1017.5,162.3 1018.8,165 1022,166.2 1023.8,168.8 1027.4,169.4 1031,169.3 1035,168.8 1038.8,170.3 1042.4,171.6 1045,172.5 1048.2,173.6 1052.5,173.8 1055.4,175.7 1056.9,177.6 1060,180 1063.2,180.3 1066.9,180.8 1069.1,181.3 1072.5,182.5 1073.7,186.3 1073.8,189 1075,192.5 1074.9,195.8 1073.8,198.8 1075.5,202.4 1078.3,204.3 1080,207.5 1078.8,207 1082.2,207.1 1085.8,207.2 1088.6,207.1 1092.5,207.5 1095,207.2 1098.7,207.1 1100.9,206.8 1104.9,206.6 1107.5,206.2 1109.8,204.1 1112.5,201.2 1115.8,200.7 1118.7,198.8 1122.7,197.8 1126.2,197.5 1128.7,196.9 1132.5,194.8 1135,193.8 1138,193.9 1142.3,192.8 1145.6,193.2 1148.4,192.2 1152.5,192.5 1148.7,196.1 1146.2,198.8 1143.8,202.5 1147.5,207 1144.7,208.9 1142.5,211.2 1137.5,214.5 1136,218.2 1135.5,221.6 1135,225 1133.5,227.6 1131.9,230.4 1131.8,234 1130,236.2 1129.3,240 1127.9,243 1126.2,246.2 1123.2,249 1120,251.2 1117.5,255 1117.5,258.2 1116.2,261.2 1112.5,260.3 1109.2,258.8 1105,257.5 1099.9,257 1096.2,256.2 1092.9,258.2 1090,261.2 1086.3,263.1 1083.8,265 1079.5,265.5 1081.6,269.1 1082.5,272.5 1084,275.8 1084.5,280 1084.1,284.1 1084.4,287.2 1083.7,290.6 1083.8,293.8 1085,296.2 1083.5,298.9 1082.5,302.5 1079.1,303.7 1076.1,305.7 1073.8,307.5 1073.7,311.3 1072.5,315 1069.6,312.7 1067,310 1065,305 1062.5,304.1 1058.8,303.8 1058.7,308.8 1057.5,312.5 1053.5,313.7 1050,316.2 1047.8,318.9 1044.8,320.1 1042.5,322.5 1039.1,322.5 1036.7,323.2 1034.1,323.9 1030,324.7 1027.5,325 1030,328.2 1031.2,332.5 1027.5,336.2 1024.7,335.9 1020.9,335.9 1017.1,334.8 1013,334.2 1010,333.8 1008.2,331 1006.2,328.8 1003,329.2 1000,330 998.6,333.5 996.2,337.5 994,339.3 990.8,341.8 987.5,344.4 985,346.2 982.5,348.8 980.4,349.5 977.3,350.7 973.8,353.2 971.2,353.8 969.1,356.6 965.4,358.5 963.5,359.7 960,362.5 957.5,367.5 954.8,368.4 951.9,368.7 948.3,369.7 945,370 941.9,371.3 938.4,371.3 935.2,373.5 932.5,373.8 929.1,376.4 926.5,378.5 922.5,380 919.2,381 916,382.9 912.5,383.8 911.2,387.5 908.2,387.7 903.9,388.5 901.2,390 901.9,386.2 904.7,384.7 908.3,383.4 911.1,378.8 907.7,378.3 904.7,377 903.8,373.3 906.4,370.2 908.3,367.8 910.8,365.6 913.8,362.3 916.8,359.4 919.3,357.8 922.1,354.1 918.4,349.5 913.8,346.8 908.3,346.8 904.9,347.5 901.9,347.3 899.7,348.9 897.3,351.3 894.6,355 891.8,358.7 888.5,360.3 884.9,361.1 882.7,362.7 879,364.2 876.1,366.2 873.5,366.9 869.8,371.5 868.9,377 866.2,380.7 864.1,381.8 860.7,383.4 856.1,386.2 852.4,384.3 848.5,382.9 846,382.5 844.2,388 841.4,391.7 842.3,396.2 845.1,399.9 849.4,401.4 852.1,402.9 856.1,403.6 860.3,404.3 863.4,404.5 866.2,408.2 868.9,410 864.3,412.8 862.5,416.4 865.2,420.1 867.8,421.5 871.7,422.8 874.5,422.3 878.1,422.5 879.9,417.3 882.5,415.4 885.4,413.7 888.2,410.9 891.9,409.8 894.6,409.1 897.3,410 900.5,410.9 904.7,412.8 909.2,415.5 912.4,415.6 915.7,416.4 920.2,415.1 924,416 927.3,416.1 930.3,417.3 929.4,421.9 926.7,426.5 921.2,428.3 915.7,426.5 913,428.6 910.2,430.2 904.7,432 901.3,433.3 899.2,434.8 894.6,437.5 892.5,439.3 890,442.1 888.3,444 885.4,446.7 882.1,449.2 879.9,451.2 878.3,453.9 875.3,455.8 873.5,458.3 871.7,461.3 868,465.9 869.5,468 871.7,471.4 873.7,473.4 876.2,475.8 879,476.9 882.2,478.8 886.3,481.5 888,485.8 890,488.8 891.3,491.4 893.4,494.4 894.6,498 896.4,500 897.8,503.3 899.2,507.3 901.7,510.3 902.9,514.1 904.7,516.5 906.7,519.6 908.3,521.9 910.2,523.8 912.9,526.2 915.7,529.3 917.2,532.7 917.5,535.8 916.6,541.2 920.2,543.1 916.6,546.8 917.5,551.3 920.2,555.9 915.7,555 911.5,554.6 908.3,554.1 905.8,554.9 902.8,556.8 901,558.7 904.6,560.9 908.3,563.2 910.6,565.3 913.8,566.9 915.6,569.8 917.5,572.4 915.7,576.1 917.5,580.7 917.9,586.2 913.8,588 912,593.5 911.6,596.9 911.1,599.9 912,603.6 908.3,606.3 904.7,608.2 901.9,611.8 899.2,614.6 897.3,618.2 894.9,620 891.8,621.9 889.1,626.5 886.3,631.1 884.5,636.6 881.8,641.2 878.1,644.8 877.8,649.1 876.2,652.2 878.1,657.7 879,661.3 873.5,662.2 869.8,665 865.2,667.8 862.5,672.3 859.7,674.1 857,676.9 852.4,680.6 847.8,683.3 845.5,685.9 843.2,688.8 841.5,690.8 838.7,693.4 835.3,695.3 833.2,698 828.6,701.7 826.4,702.5 823.1,704.4 819.4,708.1 817.7,710.3 814.8,712.7 811.2,714.4 807.5,715.4 804.9,715.8 801.5,716.8 798.3,718.2 795.3,719.5 791,720 787.7,720.4 785,721.2 783.2,723.5 780.4,723.9 777.5,726.2 773.4,727.6 770,728.8 766.5,730.7 763.8,732.5 760.6,734.3 758.8,736.2 755.6,738 752.5,738.8 749.1,738.7 746.2,737.5 742.9,737.7 740.3,738.7 737.5,740 734.8,741.3 731.4,741.3 727.5,742.5 724.3,744.3 720,745 715.9,746.7 712.5,747.5 710,752.5 711.7,754.6 713.8,757.5 713.4,761 712.5,765 707.5,767.5 704.1,767.1 701.2,766.2 699.6,762.4 697.5,760 696.2,756.3 696.2,752.5 696.9,748.2 698.8,745 695,742.5 691.9,743.8 687.5,743.8 685,740 682,741 678.6,741.4 675,741.2 669.9,740.4 666.2,740 661.7,739.2 657.5,738.8 654.3,737.3 652,736.9 648.8,735 646.9,732.9 643.8,731.2 642.6,727.7 641.2,725 641.8,722.6 643,718.6 643.8,716.2 643.8,715 640.8,714.6 638.2,712.8 635,712.5 631.1,711.4 627.1,710.5 623.8,710 621.2,705 618.6,706.3 615,707.5 611.7,709.2 607.5,711.2 604.8,713 601.2,716.2 597.9,717.7 595,720 592.2,718.4 590,716.2 586.2,720 582.5,716.2 580.2,719.9 578.8,722.5 575.8,721.2 572.5,718.8 568.7,717.5 566.2,717.5 563.7,720.7 562.5,722.5 559.1,722.3 555.5,723.2 552.5,723.8 550.9,726.6 550,730 551.3,732.6 553.2,735.3 555,738.8 555.1,743.6 555,747.5 550,748.8 546.2,747.5 544.5,743.9 543.8,740 542.5,736.2 539.6,739.1 536.2,742.5 532.9,742 530,742.5 527.1,740 523.8,736.2 521.2,731.2 517.9,730.4 513.6,730.4 510,730 508.8,726.2 509.7,723.4 511.8,719.3 512.2,716.3 513.8,712.5 510.7,711.6 507.5,710 505.9,707.3 503.7,702.9 501.2,700 500.1,696.6 498.8,692.5 501.2,688.8 497.3,689.8 494,689.9 490.2,689.1 487.5,690 483.1,690.9 480,693 480.7,689.7 482.5,687.5 481.6,685.2 480.4,682.1 478.8,678.8 482.3,675.2 485,672.5 483.8,667.5 486.1,664.4 488.8,662.5 490.2,659.6 492.4,658.1 494.1,655.3 496.2,652.5 497.7,648.9 498.1,645.4 500,642.5 499.6,639.3 499.7,636.3 500.2,632.3 500.5,629.5 499.6,625.8 500,622.7 500,620 497.9,617.9 494.5,616.6 492.5,615 490.7,611.8 490.5,606.9 488.8,603.8 485.5,602.8 483.3,601 480,599.5 477.7,602.2 475,605 473.3,608.9 471.2,612.5 468.4,611.9 465,610 461.8,608.4 458.9,608.5 455.3,607.3 452.4,606 448.8,604.5 445.4,606.2 441.2,607.5 437.6,609.5 435,612.5 432.6,614.1 428.7,615 426.8,616.3 423.5,618.7 420.1,619.1 417.5,621.2 415.2,624.4 413.8,627.2 411.2,630 406.9,630.2 403.7,631 400,632 400,632 395,631.2 391,631 388.5,631.6 385.1,632.8 381.2,632.5 380.4,628.4 380,623.8 376.5,621.6 373.8,620 372.8,616.9 372.5,613.8 368.8,611.3 366.2,608 363.4,608.5 360,610 356.4,608.4 354,608 350,606.2 345.2,605.8 341.2,605 338.5,606.3 335,607.5 332.6,610.5 330.2,613.1 328.8,615 328.3,618.5 326.7,621.1 326.2,625 322,621.2 322.1,616.9 322.5,612.5 320.8,609.6 318.8,607.5 314.8,608.9 311.2,611.2 306.2,611.9 302.5,612.5 299.1,612.8 295.7,613.1 292.5,613 290,611.1 286.2,609.5 283.2,608.5 280,607.5 277,607.6 273.6,609.3 271.2,610 269.7,607.3 267.6,604.4 266.2,602.5 262.1,603 257.5,603 255.7,599.8 255,597.5 250.9,595.7 247.5,594.5 244.4,593.3 241.2,591.2 240.1,588.5 238.8,585 233.8,582.5 230.4,583.6 227.5,585 225.9,582.4 223.8,578.8 221.4,577.4 217.5,575.6 215,573.8 211.6,571.7 209.3,570.6 206.2,568.6 203.8,567 200,562.5 196.4,561.1 193.9,561.3 190,560 188.7,562.2 187.1,565.9 185,568 183.8,565 179.4,562.7 176.2,561.2 173,559.5 170.5,559.1 167.5,557.5 165.1,555.6 162.5,552.5 158.9,550.6 155,548 151.2,548.1 147.5,547.5 145.3,544.9 143.8,542.3 142.5,540 141.5,536.1 140.9,532.9 140,530 138.1,526.9 136.2,523.8 135.5,520.9 135,517 138.1,516 141.2,514.5 143.7,517.4 145,520.5 148,518.2 150,516.2 149.3,512.7 150,510 148.4,507.3 147,504.3 146.2,501.2 143.4,498.9 141.2,496.2 141.4,493.1 140.7,489.7 140,486.2 142.2,483.7 144.5,481.1 146.2,478.8 143,478 140.3,475.6 136.6,474.8 133.8,473.8 131.6,469.5 130,466.2 129.8,463.1 129.8,459.9 129.5,457 126.3,457 122.9,455.6 119.1,456.5 115,455.5 111.9,454.5 109.3,453.1 106.1,452.2 102.5,451.2 97.5,448.8 97.5,450 96.1,447.8 93.8,445 92.8,441.4 91.6,438.9 90.7,435.2 90,432.5 86.3,430.4 83.4,428.6 80,426.2 75.9,426 72.5,425.6 69.3,425.6 66.2,425 65,421.2 68.7,419.4 72.5,418.7 76.2,417.5 75.2,414.9 74.4,411.9 71.8,408.2 71.2,405 71,401 71.2,396.2 68,395.1 64.9,392.4 62.5,391.2 58.4,392.3 55,393.8 51.2,390 52.3,386.7 52.5,383.8 50.1,381.1 47.5,377.5 49,375 51.9,372.8 53.8,370 53.8,366.7 55,363.8 58.5,362.4 61,362.5 65,361.2 67.6,358.7 71.2,356.2 74.4,354.9 78.6,354.1 81.9,352.9 85,351.2 86.8,354.7 87.5,357.5 90.3,357.3 93.9,357.4 98.1,357 101.2,356.2 102.5,352.7 103.5,350.1 105,346.2 108.8,342.5 113,343 116.2,344.5 119.4,344.4 123.8,343.8 125.6,341.3 128.1,338.6 130,336.2 132.9,335 137.5,333.6 139.9,331.9 143.8,331.2 147.4,330.2 149.4,328.7 152.5,327.5 156.8,326.2 159.6,325.5 163.8,323.8 166.4,321.9 168.8,320 168,317.1 168.2,313.4 168.5,310.6 167.5,307.5 170.8,306.4 173.8,305 171.2,301.2 173.9,299.7 177.5,299.5 177.4,295.8 176.2,292.5 174.8,289 173.6,286.6 172,283 170.8,280 170.6,275.7 171.2,271.2 168.4,269.8 166.2,267.5 161.8,263.8 165.4,261.8 168.2,261 171.2,260 174.6,259.2 178.5,258.6 182.5,258.8 185.1,257.1 188.5,257.2 191.7,256.1 195,254.5 198.8,257 201.7,257.7 206.1,257.4 208.8,258.2 210.5,256.2 206.2,253.8 205.7,249.7 205,245 206.4,241 209,238 211.2,235 212.3,231.9 214.1,228.4 215.4,225.3 216.2,222.5 218.3,220.3 220,217 222.6,219 225.6,219.2 229.5,221.3 232.5,222.5 236.1,222.5 238.1,222 242.2,222.2 244.8,221.1 247.5,221.2 250.6,222.6 253.8,223.8 256.2,221.5 259.6,219.2 263,216.9 265.5,215 265.1,212.6 265,209 264.8,206.3 264.2,202.8 263.8,200 265.1,197.1 266.2,193 269.3,192.6 272.4,191.8 275.7,190.9 278.8,190.1 282.5,190 283.2,185.6 285,182.5 288.1,180 290,177 292.9,176.9 297.1,176.5"/>
</g>
<polyline fill="none" stroke="#606060" stroke-width="1" points="882.8,791.9 872.3,814.6"/>
<polyline fill="none" stroke="#606060" stroke-width="1.3" points="865.2,853.1 865.2,875.8"/>
<polyline fill="none" stroke="#606060" stroke-width="1" points="863.8,935.8 860.4,950 855.3,959.9"/>
<polyline fill="none" stroke="#606060" stroke-width="1" points="814.2,1018 801.5,1035.5"/>
<polyline fill="none" stroke="#606060" stroke-width="1" points="753.3,1105.2 734.1,1111.4"/>
<polyline fill="none" stroke="#606060" stroke-width="1" points="670.6,1037.2 669.7,1049.1 671.7,1059.6"/>
<polyline fill="none" stroke="#606060" stroke-width="1" points="708,931.6 707.1,942.9 703.5,952.2"/>
<polyline fill="none" stroke="#606060" stroke-width="1" points="689.6,850 696.7,860.7 699.5,872.6"/>
<polyline fill="none" stroke="#606060" stroke-width="2.3" points="932,679.3 926.9,702.7"/>
<polyline fill="none" stroke="#606060" stroke-width="1" points="916.4,738 902.4,756.7"/>
<polyline fill="none" stroke="#606060" stroke-width="1" points="692.4,1032.1 696.7,1028.4 700.9,1027.9"/>
<path fill="#606060" shape-rendering="crispEdges" d="M728 832h1v2h-1zM743 834h2v1h-2zM731 844h2v1h-2zM730 849h2v1h-2zM738 847h2v1h-2zM747 847h1v2h-1zM748 844h2v1h-2zM733 854h2v1h-2zM747 854h2v1h-2zM741 860h2v1h-2zM772 856h1v2h-1zM778 854h2v1h-2zM787 850h2v1h-2zM784 862h2v1h-2zM771 864h2v1h-2zM822 847h1v2h-1zM841 871h1v1h-1zM798 896h1v1h-1zM755 783h2v1h-2zM785 946h1v1h-1zM787 956h1v1h-1zM775 958h2v1h-2zM791 959h1v1h-1zM823 946h1v1h-1zM832 955h2v1h-2zM835 962h1v1h-1zM821 968h1v1h-1zM818 970h2v1h-2zM805 966h1v1h-1zM809 975h1v1h-1zM833 975h1v2h-1zM771 975h1v1h-1zM778 971h1v1h-1zM787 970h2v1h-2zM785 978h1v1h-1zM785 982h1v1h-1zM801 978h2v1h-2zM808 982h1v1h-1zM818 981h1v1h-1zM799 989h2v1h-2zM808 990h1v1h-1zM777 989h1v1h-1zM768 996h2v1h-2zM772 1000h1v1h-1zM777 1002h1v1h-1zM785 999h1v2h-1zM819 995h1v1h-1zM822 996h1v1h-1zM815 999h2v1h-2zM747 986h1v1h-1zM743 999h1v1h-1zM747 1000h2v1h-2zM753 999h1v1h-1zM730 1006h1v1h-1zM761 1013h2v1h-2zM754 1020h1v1h-1zM737 1016h1v1h-1zM730 1023h2v1h-2zM730 1027h1v1h-1zM795 1009h1v1h-1zM801 1007h1v2h-1zM787 1014h1v1h-1zM791 1027h1v1h-1zM788 1033h2v1h-2zM766 1038h1v1h-1zM760 1052h1v1h-1zM747 1060h2v1h-2zM748 1065h1v1h-1zM750 1071h1v1h-1zM748 1077h2v1h-2zM754 1078h1v1h-1zM738 1102h1v1h-1zM742 1101h2v1h-2zM872.5 697.8h3v3h-3zM907.9 717.9h1.5v1.5h-1.5zM908.6 729.9h1.5v1.5h-1.5zM943.2 655h1.5v1.5h-1.5zM947.4 651.4h1.2v1.2h-1.2zM963.4 651.1h1.2v1.2h-1.2zM919 658.6h1.5v1.5h-1.5zM871.4 706.7h1.2v1.2h-1.2zM872.2 703.5h1v1h-1zM882.6 639.2h1.5v1.5h-1.5zM880.6 645.9h1.5v1.5h-1.5zM918.5 566.8h3v3h-3zM923.2 569.8h2v2h-2zM921.8 562.6h1.5v1.5h-1.5zM926.1 553.6h1.2v1.2h-1.2zM915.9 572.6h1.5v1.5h-1.5zM915.1 599.2h1.5v1.5h-1.5zM900.6 620.1h1.5v1.5h-1.5zM912.7 594.4h1.2v1.2h-1.2zM919.4 555.2h1.2v1.2h-1.2zM930.3 553.7h1v1h-1zM809.1 751.6h1.8v1.8h-1.8zM823 758h2v2h-2zM756.9 781.9h1.2v1.2h-1.2zM770.8 789.3h1.4v1.4h-1.4zM841.9 870.9h1.3v1.3h-1.3zM685.4 751.2h1.2v1.2h-1.2z"/>
<polygon points="915.5,566.5 917.5,564 919,565 921,563 923.5,564.5 925,563.5 926.5,566 925.5,568 927,570 925,572 923.5,575 921.5,573.5 920,575 918.5,572.5 916.5,571.5 917.5,569" fill="#686868" shape-rendering="crispEdges"/><rect x="919.5" y="566.5" width="4" height="2.5" fill="#FEAC3A"/><rect x="921" y="570" width="2" height="1.5" fill="#fff"/>
<polyline fill="none" stroke="#6a6a6a" stroke-width="1.3" shape-rendering="crispEdges" points="916,575.8 917.5,577.9 918.2,580.8 917.5,583.8 917.7,586.4 915.7,586.7 914.3,588.9 912.8,590.6 912.9,594.6 912.5,595.7 913,597.3 912.4,599.8 912,603.2 910.4,605.8 908.3,606.7 907.4,607.3 905.4,607.7 903.1,609.8 902.9,612 899.5,615.1 898.8,616.3 898.5,618.9 895.6,619.9 894.3,621.6 892.9,621.8 892,623.8 889.6,627.3 887.7,629.1 886.1,631.7 886.6,634.3 885.9,636.6 884.2,639.4 882.6,641.4 881.2,644.1 878.7,645.4 877.3,647.9 877.8,650.9 877.5,652.1 877.6,655.6 877.8,657.9 879,660.9 876.1,662.5 873.4,662 872.1,664.6 869.7,665.2 868.2,667.4 866.5,668.8 864.1,670.2 862.9,673.3 862.2,673.5 858.9,675.2 857.1,677.2 855.5,678.6 852.1,680.8 850.5,682.4 849.3,683.9 846.9,685.6 845.7,686.5 844.6,689.6 843.1,691.2 840.6,692 838.6,693.9 836.7,694.5 835.1,696.2 833.5,697.5 830.6,699.5"/>
<!--/MAP-->
</svg>
<div id="frame"></div>
<div id="title"><span class="cjk">父系：</span> O-M1513 (<span class="cjk">含下游</span>)</div>
<div id="legtitle">相对占比</div>
<div id="legend">
<div class="row"><div class="sw" style="background:#FFFFE5"></div><div class="lb">0.036% - 0.180%</div></div>
<div class="row"><div class="sw" style="background:#FFF8C1"></div><div class="lb">0.180% - 0.343%</div></div>
<div class="row"><div class="sw" style="background:#FEE79B"></div><div class="lb">0.343% - 0.512%</div></div>
<div class="row"><div class="sw" style="background:#FECE65"></div><div class="lb">0.512% - 0.714%</div></div>
<div class="row"><div class="sw" style="background:#FEAC3A"></div><div class="lb">0.714% - 0.962%</div></div>
<div class="row"><div class="sw" style="background:#F68720"></div><div class="lb">0.962% - 1.333%</div></div>
<div class="row"><div class="sw" style="background:#E1640E"></div><div class="lb">1.333% - 1.627%</div></div>
<div class="row"><div class="sw" style="background:#C14702"></div><div class="lb">1.627% - 2.024%</div></div>
<div class="row"><div class="sw" style="background:#933204"></div><div class="lb">2.024% - 2.330%</div></div>
<div class="row"><div class="sw" style="background:#662506"></div><div class="lb">2.330% - 2.857%</div></div>
</div>
<div id="author"><span class="cjk">作者</span>:O1a<span class="cjk">溯源群</span></div>
</body>
</html>
